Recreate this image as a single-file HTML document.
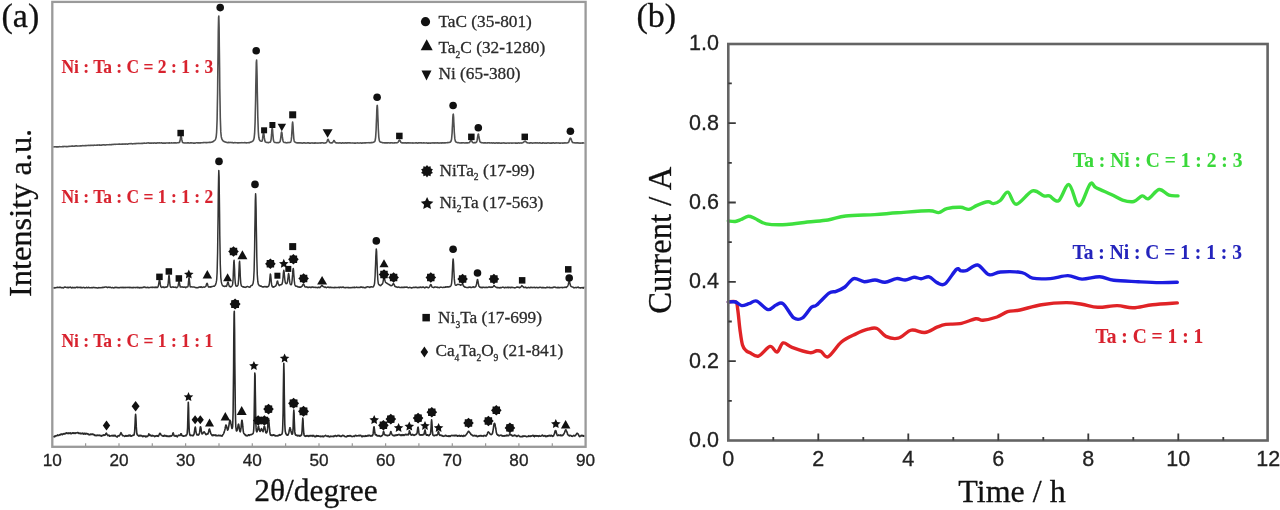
<!DOCTYPE html><html><head><meta charset="utf-8"><style>html,body{margin:0;padding:0;background:#fff;width:1280px;height:510px;overflow:hidden}svg{display:block;filter:blur(0.45px)}</style></head><body>
<svg width="1280" height="510" viewBox="0 0 1280 510">
<rect width="1280" height="510" fill="#fff"/>
<g fill="none" stroke-linejoin="round">
<path d="M53.3 146.9 L53.5 146.9 L53.8 146.9 L54 146.9 L54.3 146.9 L54.5 146.8 L54.8 146.7 L55 146.8 L55.3 146.8 L55.5 146.7 L55.8 146.9 L56 146.8 L56.3 146.9 L56.5 146.9 L56.8 146.9 L57 146.8 L57.3 146.8 L57.5 146.9 L57.8 146.8 L58 146.9 L58.3 146.9 L58.5 146.7 L58.8 146.8 L59 146.8 L59.3 146.7 L59.5 146.6 L59.8 146.7 L60 146.7 L60.3 146.7 L60.5 146.8 L60.8 146.8 L61 146.8 L61.3 146.7 L61.5 146.8 L61.8 146.7 L62 146.8 L62.3 146.8 L62.5 146.6 L62.8 146.5 L63 146.4 L63.3 146.6 L63.5 146.5 L63.8 146.6 L64 146.5 L64.3 146.5 L64.5 146.5 L64.8 146.4 L65 146.4 L65.3 146.5 L65.5 146.5 L65.8 146.6 L66 146.6 L66.3 146.6 L66.5 146.7 L66.8 146.6 L67 146.5 L67.3 146.5 L67.5 146.6 L67.8 146.6 L68 146.5 L68.3 146.5 L68.5 146.4 L68.8 146.4 L69 146.4 L69.3 146.3 L69.5 146.2 L69.8 146.3 L70 146.4 L70.3 146.2 L70.5 146.3 L70.8 146.3 L71 146.2 L71.3 146.1 L71.5 146.2 L71.8 146.3 L72 146.1 L72.3 146.2 L72.5 146 L72.8 146.1 L73 146.1 L73.3 146.2 L73.5 146.3 L73.8 146.2 L74 146.3 L74.3 146.2 L74.5 146 L74.8 146.1 L75 145.9 L75.3 145.9 L75.5 145.9 L75.8 146 L76 145.9 L76.3 145.8 L76.5 145.9 L76.8 145.9 L77 146 L77.3 146.1 L77.5 146 L77.8 146 L78 146 L78.3 146 L78.5 146 L78.8 146 L79 146 L79.3 146 L79.5 146 L79.8 145.9 L80 146 L80.3 145.8 L80.5 145.8 L80.8 145.9 L81 145.9 L81.3 145.9 L81.5 145.7 L81.8 145.7 L82 145.7 L82.3 145.6 L82.5 145.7 L82.8 145.7 L83 145.6 L83.3 145.7 L83.5 145.7 L83.8 145.7 L84 145.7 L84.3 145.7 L84.5 145.8 L84.8 145.6 L85 145.5 L85.3 145.6 L85.5 145.7 L85.8 145.6 L86 145.6 L86.3 145.6 L86.5 145.6 L86.8 145.5 L87 145.5 L87.3 145.5 L87.5 145.5 L87.8 145.5 L88 145.4 L88.3 145.5 L88.5 145.4 L88.8 145.4 L89 145.5 L89.3 145.4 L89.5 145.4 L89.8 145.5 L90 145.4 L90.3 145.3 L90.5 145.3 L90.8 145.4 L91 145.3 L91.3 145.3 L91.5 145.3 L91.8 145.4 L92 145.3 L92.3 145.4 L92.5 145.3 L92.8 145.3 L93 145.3 L93.3 145.4 L93.5 145.4 L93.8 145.3 L94 145.2 L94.3 145.2 L94.5 145.1 L94.8 145.2 L95 145.3 L95.3 145.2 L95.5 145.2 L95.8 145.2 L96 145.3 L96.3 145.3 L96.5 145.2 L96.8 145.1 L97 145.1 L97.3 145.2 L97.5 145.1 L97.8 145.1 L98 145 L98.3 145 L98.5 145 L98.8 145.1 L99 145 L99.3 144.9 L99.5 145.1 L99.8 145.1 L100 145.2 L100.3 145.1 L100.5 145.2 L100.8 145.2 L101 145.1 L101.3 145.1 L101.5 145.1 L101.8 145.1 L102 145.1 L102.3 145 L102.5 144.9 L102.8 144.8 L103 144.8 L103.3 144.8 L103.5 144.8 L103.8 144.9 L104 144.8 L104.3 144.9 L104.5 144.9 L104.8 145 L105 145 L105.3 145.1 L105.5 145 L105.8 144.8 L106 144.9 L106.3 144.8 L106.5 144.7 L106.8 144.8 L107 144.8 L107.3 144.7 L107.5 144.8 L107.8 144.8 L108 144.7 L108.3 144.7 L108.5 144.7 L108.8 144.7 L109 144.8 L109.3 144.7 L109.5 144.6 L109.8 144.6 L110 144.7 L110.3 144.6 L110.5 144.7 L110.8 144.7 L111 144.8 L111.3 144.8 L111.5 144.6 L111.8 144.6 L112 144.7 L112.3 144.5 L112.5 144.5 L112.8 144.4 L113 144.4 L113.3 144.4 L113.5 144.4 L113.8 144.5 L114 144.4 L114.3 144.3 L114.5 144.2 L114.8 144.2 L115 144.2 L115.3 144.3 L115.5 144.4 L115.8 144.3 L116 144.3 L116.3 144.3 L116.5 144.3 L116.8 144.2 L117 144.3 L117.3 144.3 L117.5 144.3 L117.8 144.2 L118 144.2 L118.3 144.1 L118.5 144.2 L118.8 144.3 L119 144.2 L119.3 144.1 L119.5 144.1 L119.8 144.1 L120 144.1 L120.3 144.2 L120.5 144.2 L120.8 144.3 L121 144.3 L121.3 144.2 L121.5 144.2 L121.8 144.1 L122 144.2 L122.3 144.1 L122.5 144.2 L122.8 144.1 L123 144.1 L123.3 144.1 L123.5 144.1 L123.8 144 L124 144 L124.3 144 L124.5 144.1 L124.8 144.2 L125 144.1 L125.3 144.1 L125.5 144.2 L125.8 144 L126 144 L126.3 143.9 L126.5 144 L126.8 144 L127 144.1 L127.3 144.1 L127.5 144.1 L127.8 144.1 L128.1 144 L128.3 143.9 L128.6 143.9 L128.8 143.8 L129.1 143.7 L129.3 143.8 L129.6 143.7 L129.8 143.6 L130.1 143.6 L130.3 143.7 L130.6 143.7 L130.8 143.6 L131.1 143.7 L131.3 143.6 L131.6 143.7 L131.8 143.8 L132.1 143.8 L132.3 143.9 L132.6 143.9 L132.8 143.9 L133.1 143.7 L133.3 143.8 L133.6 143.7 L133.8 143.7 L134.1 143.6 L134.3 143.7 L134.6 143.8 L134.8 143.6 L135.1 143.6 L135.3 143.6 L135.6 143.7 L135.8 143.6 L136.1 143.5 L136.3 143.4 L136.6 143.5 L136.8 143.6 L137.1 143.5 L137.3 143.5 L137.6 143.5 L137.8 143.4 L138.1 143.4 L138.3 143.3 L138.6 143.4 L138.8 143.5 L139.1 143.5 L139.3 143.5 L139.6 143.4 L139.8 143.4 L140.1 143.5 L140.3 143.5 L140.6 143.5 L140.8 143.4 L141.1 143.4 L141.3 143.5 L141.6 143.4 L141.8 143.2 L142.1 143.3 L142.3 143.4 L142.6 143.4 L142.8 143.3 L143.1 143.4 L143.3 143.3 L143.6 143.2 L143.8 143.1 L144.1 143.2 L144.3 143.1 L144.6 143.1 L144.8 143.2 L145.1 143.3 L145.3 143.2 L145.6 143.2 L145.8 143.2 L146.1 143.3 L146.3 143.2 L146.6 143.1 L146.8 143.1 L147.1 143 L147.3 143 L147.6 143 L147.8 142.9 L148.1 142.9 L148.3 142.9 L148.6 143 L148.8 142.9 L149.1 143.1 L149.3 143.1 L149.6 143.1 L149.8 143 L150.1 143.1 L150.3 143.1 L150.6 143.1 L150.8 143.1 L151.1 143.1 L151.3 143.2 L151.6 143.1 L151.8 143.1 L152.1 143.2 L152.3 143.1 L152.6 143 L152.8 143 L153.1 143 L153.3 143.1 L153.6 143.1 L153.8 143.2 L154.1 143.1 L154.3 143 L154.6 142.9 L154.8 142.9 L155.1 143 L155.3 143.1 L155.6 143.1 L155.8 143 L156.1 143.1 L156.3 143 L156.6 143 L156.8 143.1 L157.1 142.9 L157.3 142.9 L157.6 143 L157.8 142.9 L158.1 142.9 L158.3 143 L158.6 143 L158.8 142.9 L159.1 142.9 L159.3 142.9 L159.6 142.9 L159.8 142.9 L160.1 142.9 L160.3 143 L160.6 143 L160.8 143 L161.1 142.9 L161.3 142.9 L161.6 142.9 L161.8 142.9 L162.1 143 L162.3 143.1 L162.6 143 L162.8 143.1 L163.1 143 L163.3 143.1 L163.6 143.1 L163.8 143 L164.1 143 L164.3 143.1 L164.6 143.1 L164.8 143 L165.1 143.1 L165.3 143.2 L165.6 143.1 L165.8 143.1 L166.1 143 L166.3 143 L166.6 142.9 L166.8 143 L167.1 143 L167.3 143 L167.6 142.9 L167.8 143 L168.1 143 L168.3 142.9 L168.6 143 L168.8 143.1 L169.1 142.9 L169.3 143.1 L169.6 142.9 L169.8 142.9 L170.1 143 L170.3 143 L170.6 143 L170.8 143 L171.1 143 L171.3 142.9 L171.6 142.9 L171.8 142.8 L172.1 142.9 L172.3 143 L172.6 143 L172.8 143 L173.1 143 L173.3 142.9 L173.6 142.9 L173.8 143 L174.1 142.9 L174.3 142.9 L174.6 142.8 L174.8 142.9 L175.1 142.9 L175.3 142.9 L175.6 142.9 L175.8 142.9 L176.1 143 L176.3 142.9 L176.6 143 L176.8 142.9 L177.1 142.8 L177.3 142.7 L177.6 142.7 L177.8 142.8 L178.1 142.8 L178.3 142.7 L178.6 142.6 L178.8 142.6 L179.1 142.6 L179.3 142.5 L179.6 142.2 L179.8 141.6 L180.1 140.5 L180.3 139.1 L180.6 137.5 L180.8 136.3 L181.1 136 L181.3 136.7 L181.6 138.1 L181.8 139.7 L182.1 140.8 L182.3 141.8 L182.6 142.3 L182.8 142.7 L183.1 142.7 L183.3 142.8 L183.6 142.8 L183.8 142.9 L184.1 143 L184.3 143 L184.6 142.9 L184.8 143 L185.1 143 L185.3 143 L185.6 143 L185.8 142.9 L186.1 142.9 L186.3 143 L186.6 143 L186.8 143 L187.1 142.9 L187.3 142.9 L187.6 142.9 L187.8 142.8 L188.1 142.8 L188.3 142.9 L188.6 142.9 L188.8 142.9 L189.1 143 L189.3 143.1 L189.6 143 L189.8 143 L190.1 143 L190.3 142.9 L190.6 142.9 L190.8 142.8 L191.1 142.8 L191.3 142.8 L191.6 143 L191.8 142.9 L192.1 143 L192.3 143 L192.6 142.9 L192.8 143 L193.1 143 L193.3 143.1 L193.6 143.1 L193.8 143.1 L194.1 143 L194.3 143.1 L194.6 143.1 L194.8 143.1 L195.1 143.1 L195.3 143.1 L195.6 143 L195.8 142.9 L196.1 142.8 L196.3 142.7 L196.6 142.7 L196.8 142.7 L197.1 142.7 L197.3 142.8 L197.6 142.9 L197.8 142.9 L198.1 142.9 L198.3 142.8 L198.6 142.8 L198.8 142.9 L199.1 142.9 L199.3 142.8 L199.6 142.9 L199.8 143 L200.1 142.9 L200.3 142.8 L200.6 142.9 L200.8 142.9 L201.1 142.8 L201.3 142.7 L201.6 142.7 L201.8 142.8 L202.1 142.7 L202.3 142.7 L202.6 142.7 L202.8 142.7 L203.1 142.6 L203.3 142.6 L203.6 142.6 L203.8 142.5 L204.1 142.5 L204.3 142.5 L204.6 142.6 L204.8 142.5 L205.1 142.5 L205.3 142.5 L205.6 142.6 L205.8 142.7 L206.1 142.6 L206.3 142.6 L206.6 142.6 L206.8 142.5 L207.1 142.6 L207.3 142.6 L207.6 142.5 L207.8 142.5 L208.1 142.5 L208.3 142.5 L208.6 142.5 L208.8 142.4 L209.1 142.3 L209.3 142.4 L209.6 142.4 L209.8 142.4 L210.1 142.4 L210.3 142.5 L210.6 142.4 L210.8 142.3 L211.1 142.2 L211.3 142.2 L211.6 142.2 L211.8 142.1 L212.1 141.9 L212.3 141.9 L212.6 142 L212.8 141.9 L213.1 141.6 L213.3 141.4 L213.6 141.2 L213.8 141.1 L214.1 140.8 L214.3 140.6 L214.6 140.5 L214.8 140.3 L215.1 139.9 L215.3 139.6 L215.6 139 L215.8 138.3 L216.1 137.3 L216.3 135.6 L216.6 132.5 L216.8 127.6 L217.1 120 L217.3 108.5 L217.6 92.5 L217.8 72.6 L218.1 50.9 L218.3 30.5 L218.6 17.3 L218.8 16 L219.1 27.2 L219.3 46.6 L219.6 68.4 L219.8 88.9 L220.1 105.7 L220.3 118.1 L220.6 126.5 L220.8 131.9 L221.1 135 L221.3 136.9 L221.6 138 L221.8 138.9 L222.1 139.5 L222.3 139.9 L222.6 140.2 L222.8 140.6 L223.1 140.8 L223.3 141.1 L223.6 141.2 L223.8 141.4 L224.1 141.5 L224.3 141.6 L224.6 141.6 L224.8 141.8 L225.1 141.9 L225.3 142.1 L225.6 142 L225.8 142 L226.1 142.2 L226.3 142.3 L226.6 142.4 L226.8 142.5 L227.1 142.5 L227.3 142.6 L227.6 142.6 L227.8 142.5 L228.1 142.5 L228.3 142.4 L228.6 142.4 L228.8 142.6 L229.1 142.5 L229.3 142.6 L229.6 142.5 L229.8 142.4 L230.1 142.5 L230.3 142.5 L230.6 142.5 L230.8 142.4 L231.1 142.6 L231.3 142.6 L231.6 142.5 L231.8 142.5 L232.1 142.7 L232.3 142.6 L232.6 142.7 L232.8 142.7 L233.1 142.8 L233.3 142.8 L233.6 142.9 L233.8 142.8 L234.1 142.7 L234.3 142.7 L234.6 142.6 L234.8 142.7 L235.1 142.7 L235.3 142.6 L235.6 142.8 L235.8 142.7 L236.1 142.8 L236.3 142.7 L236.6 142.7 L236.8 142.7 L237.1 142.8 L237.3 142.8 L237.6 142.9 L237.8 142.9 L238.1 143 L238.3 142.9 L238.6 142.9 L238.8 142.8 L239.1 142.7 L239.3 142.8 L239.6 142.8 L239.8 142.9 L240.1 142.8 L240.3 142.8 L240.6 142.8 L240.8 142.8 L241.1 142.7 L241.3 142.7 L241.6 142.7 L241.8 142.6 L242.1 142.7 L242.3 142.8 L242.6 142.8 L242.8 142.8 L243.1 142.8 L243.3 142.7 L243.6 142.7 L243.8 142.8 L244.1 142.8 L244.3 142.7 L244.6 142.6 L244.8 142.6 L245.1 142.5 L245.3 142.7 L245.6 142.7 L245.8 142.8 L246.1 142.9 L246.3 142.8 L246.6 142.9 L246.8 142.8 L247.1 142.7 L247.3 142.8 L247.6 142.8 L247.8 142.8 L248.1 142.7 L248.3 142.7 L248.6 142.6 L248.8 142.7 L249.1 142.7 L249.3 142.5 L249.6 142.6 L249.8 142.4 L250.1 142.2 L250.3 142.2 L250.6 142.1 L250.8 142.1 L251.1 142.1 L251.3 141.8 L251.6 141.8 L251.8 141.7 L252.1 141.5 L252.3 141.4 L252.6 141.3 L252.8 141.1 L253.1 140.8 L253.3 140.3 L253.6 139.9 L253.8 139.2 L254.1 138.1 L254.3 136.4 L254.6 133.7 L254.8 129.2 L255.1 122.3 L255.3 112.7 L255.6 100.3 L255.8 86.1 L256.1 72.4 L256.3 62.6 L256.6 60 L256.8 65.8 L257.1 77.6 L257.3 91.7 L257.6 105.4 L257.8 116.7 L258.1 125.3 L258.3 131.3 L258.6 135.1 L258.8 137.3 L259.1 138.6 L259.3 139.6 L259.6 140 L259.8 140.3 L260.1 140.7 L260.3 140.9 L260.6 141 L260.8 141.1 L261.1 141.2 L261.3 141.3 L261.6 141.3 L261.8 141.3 L262.1 141 L262.3 140.2 L262.6 138.7 L262.8 136.8 L263.1 134.5 L263.3 132.8 L263.6 132.3 L263.8 133.4 L264.1 135.6 L264.3 137.7 L264.6 139.5 L264.8 140.6 L265.1 141.5 L265.3 141.9 L265.6 142 L265.8 142.1 L266.1 142.2 L266.3 142.3 L266.6 142.4 L266.8 142.5 L267.1 142.6 L267.3 142.5 L267.6 142.4 L267.8 142.5 L268.1 142.6 L268.3 142.6 L268.6 142.6 L268.8 142.6 L269.1 142.5 L269.3 142.3 L269.6 142.2 L269.8 142.2 L270.1 142.2 L270.3 142.1 L270.6 141.6 L270.8 140.8 L271.1 139.5 L271.3 137.2 L271.6 134.2 L271.8 130.8 L272.1 128.3 L272.3 128 L272.6 130 L272.8 133.3 L273.1 136.6 L273.3 139 L273.6 140.6 L273.8 141.4 L274.1 141.9 L274.3 142.2 L274.6 142.4 L274.8 142.5 L275.1 142.5 L275.3 142.5 L275.6 142.5 L275.8 142.6 L276.1 142.7 L276.3 142.7 L276.6 142.8 L276.8 142.8 L277.1 142.6 L277.3 142.7 L277.6 142.7 L277.8 142.7 L278.1 142.6 L278.3 142.6 L278.6 142.7 L278.8 142.5 L279.1 142.5 L279.3 142.4 L279.6 142.2 L279.8 142 L280.1 141.6 L280.3 140.6 L280.6 139.1 L280.8 137.3 L281.1 135 L281.3 132.9 L281.6 132 L281.8 132.4 L282.1 134 L282.3 136.4 L282.6 138.5 L282.8 140.1 L283.1 141.1 L283.3 141.7 L283.6 142 L283.8 142.2 L284.1 142.5 L284.3 142.5 L284.6 142.5 L284.8 142.5 L285.1 142.4 L285.3 142.5 L285.6 142.7 L285.8 142.8 L286.1 142.8 L286.3 142.9 L286.6 142.7 L286.8 142.7 L287.1 142.8 L287.3 142.7 L287.6 142.6 L287.8 142.6 L288.1 142.6 L288.3 142.6 L288.6 142.5 L288.8 142.5 L289.1 142.6 L289.3 142.5 L289.6 142.5 L289.8 142.4 L290.1 142.4 L290.3 142.3 L290.6 142.1 L290.8 141.6 L291.1 140.7 L291.3 139.4 L291.6 136.9 L291.8 133.2 L292.1 128.7 L292.3 124.5 L292.6 122 L292.8 123.2 L293.1 127 L293.3 131.6 L293.6 135.6 L293.8 138.5 L294.1 140.4 L294.3 141.4 L294.6 141.8 L294.8 142 L295.1 142.1 L295.3 142.3 L295.6 142.5 L295.8 142.5 L296.1 142.5 L296.3 142.7 L296.6 142.8 L296.8 142.9 L297.1 142.8 L297.3 142.8 L297.6 142.9 L297.8 142.9 L298.1 142.9 L298.3 142.9 L298.6 142.8 L298.8 142.8 L299.1 142.9 L299.3 142.9 L299.6 142.9 L299.8 142.9 L300.1 142.9 L300.3 142.9 L300.6 142.9 L300.8 143 L301.1 142.9 L301.3 142.9 L301.6 143 L301.8 143.1 L302.1 143 L302.3 143.1 L302.6 143.1 L302.8 143 L303.1 142.9 L303.3 142.9 L303.6 142.8 L303.8 142.9 L304.1 142.9 L304.3 143 L304.6 142.9 L304.8 142.8 L305.1 142.9 L305.3 143 L305.6 143.1 L305.8 143.1 L306.1 143.1 L306.3 143.1 L306.6 143 L306.8 143 L307.1 143 L307.3 142.9 L307.6 142.9 L307.8 142.9 L308.1 142.9 L308.3 142.9 L308.6 142.9 L308.8 142.9 L309.1 142.9 L309.3 143.1 L309.6 143.1 L309.8 143.2 L310.1 143.2 L310.3 143.1 L310.6 143.2 L310.8 143 L311.1 142.9 L311.3 142.9 L311.6 143 L311.8 143 L312.1 143 L312.3 142.9 L312.6 143.1 L312.8 143 L313.1 143 L313.3 143 L313.6 143.1 L313.8 143.2 L314.1 143.1 L314.3 143.1 L314.6 143.1 L314.8 142.9 L315.1 142.9 L315.3 143 L315.6 143.1 L315.8 142.9 L316.1 143 L316.3 143 L316.6 143.1 L316.8 143 L317.1 143 L317.3 143 L317.6 143.1 L317.8 143 L318.1 143.1 L318.3 143.1 L318.6 143 L318.8 143 L319.1 143 L319.3 143 L319.6 142.9 L319.8 143 L320.1 143.1 L320.3 143.1 L320.6 142.9 L320.8 142.9 L321.1 142.9 L321.3 142.9 L321.6 142.9 L321.8 142.8 L322.1 142.8 L322.3 142.8 L322.6 142.7 L322.8 142.8 L323.1 142.9 L323.3 142.9 L323.6 143 L323.8 143.1 L324.1 143.1 L324.3 143.1 L324.6 143 L324.8 143 L325.1 142.9 L325.3 143 L325.6 142.9 L325.8 142.8 L326.1 142.8 L326.3 142.5 L326.6 142.2 L326.8 141.9 L327.1 141.4 L327.3 140.7 L327.6 139.9 L327.8 139.5 L328.1 139.3 L328.3 139.7 L328.6 140.2 L328.8 140.8 L329.1 141.4 L329.3 142 L329.6 142.3 L329.8 142.6 L330.1 142.7 L330.3 142.8 L330.6 142.7 L330.8 142.9 L331.1 142.9 L331.3 142.8 L331.6 142.8 L331.8 142.9 L332.1 142.9 L332.3 142.7 L332.6 142.5 L332.8 142.3 L333.1 142 L333.3 141.6 L333.6 141.2 L333.8 140.6 L334.1 140.5 L334.3 140.8 L334.6 141.4 L334.8 141.8 L335.1 142.2 L335.3 142.4 L335.6 142.7 L335.8 142.7 L336.1 142.9 L336.3 142.9 L336.6 142.9 L336.8 142.8 L337.1 142.8 L337.3 142.8 L337.6 143 L337.8 143 L338.1 142.9 L338.3 143 L338.6 143.1 L338.8 143 L339.1 142.9 L339.3 142.9 L339.6 143 L339.8 142.9 L340.1 142.9 L340.3 143 L340.6 142.9 L340.8 143 L341.1 143.1 L341.3 143.2 L341.6 143.2 L341.8 143 L342.1 142.9 L342.3 142.9 L342.6 142.9 L342.8 142.8 L343.1 143 L343.3 142.9 L343.6 143 L343.8 143.1 L344.1 143 L344.3 143.1 L344.6 143 L344.8 142.9 L345.1 142.9 L345.3 142.8 L345.6 142.9 L345.8 142.9 L346.1 143 L346.3 143.1 L346.6 142.9 L346.8 142.9 L347.1 142.9 L347.3 142.9 L347.6 142.8 L347.8 142.8 L348.1 142.9 L348.3 142.9 L348.6 142.8 L348.8 142.8 L349.1 142.8 L349.3 142.9 L349.6 142.9 L349.8 142.9 L350.1 142.9 L350.3 143 L350.6 143 L350.8 142.9 L351.1 143 L351.3 143 L351.6 143 L351.8 143 L352.1 143 L352.3 143 L352.6 142.9 L352.8 143 L353.1 143.1 L353.3 143 L353.6 143 L353.8 143 L354.1 143.1 L354.3 143.1 L354.6 143 L354.8 143.1 L355.1 143.1 L355.3 143.1 L355.6 143.2 L355.8 143.1 L356.1 143 L356.3 143 L356.6 143 L356.8 143 L357.1 143 L357.3 142.9 L357.6 142.9 L357.8 143 L358.1 143 L358.3 143 L358.6 143.1 L358.8 143 L359.1 143 L359.3 143 L359.6 143.1 L359.8 143 L360.1 142.9 L360.3 143 L360.6 143 L360.8 142.9 L361.1 143 L361.3 143.1 L361.6 143.1 L361.8 143.1 L362.1 143.2 L362.3 143.2 L362.6 143 L362.8 142.9 L363.1 143 L363.3 143 L363.6 142.9 L363.8 142.9 L364.1 143 L364.3 142.9 L364.6 142.9 L364.8 143 L365.1 142.9 L365.3 142.8 L365.6 142.9 L365.8 142.8 L366.1 142.9 L366.3 142.8 L366.6 142.8 L366.8 142.8 L367.1 142.8 L367.3 142.8 L367.6 142.7 L367.8 142.7 L368.1 142.7 L368.3 142.7 L368.6 142.7 L368.8 142.7 L369.1 142.6 L369.3 142.7 L369.6 142.8 L369.8 142.9 L370.1 142.9 L370.3 142.8 L370.6 142.7 L370.8 142.6 L371.1 142.6 L371.3 142.7 L371.6 142.6 L371.8 142.7 L372.1 142.6 L372.3 142.6 L372.6 142.5 L372.8 142.5 L373.1 142.4 L373.3 142.3 L373.6 142.2 L373.8 142.1 L374.1 141.9 L374.3 141.8 L374.6 141.7 L374.8 141.3 L375.1 140.7 L375.3 139.5 L375.6 137.6 L375.8 134.6 L376.1 130 L376.3 124 L376.6 117.2 L376.8 110.4 L377.1 105.9 L377.3 105.4 L377.6 109.2 L377.8 115.6 L378.1 122.6 L378.3 128.8 L378.6 133.8 L378.8 137.1 L379.1 139.2 L379.3 140.5 L379.6 141.1 L379.8 141.6 L380.1 141.8 L380.3 142 L380.6 142.1 L380.8 142.2 L381.1 142.2 L381.3 142.2 L381.6 142.4 L381.8 142.4 L382.1 142.5 L382.3 142.6 L382.6 142.7 L382.8 142.8 L383.1 142.9 L383.3 142.8 L383.6 142.7 L383.8 142.7 L384.1 142.8 L384.3 142.9 L384.6 142.8 L384.8 142.7 L385.1 142.9 L385.3 142.9 L385.6 142.9 L385.8 143 L386.1 142.8 L386.3 142.9 L386.6 142.9 L386.8 142.9 L387.1 142.8 L387.3 142.8 L387.6 142.8 L387.8 143 L388.1 142.9 L388.3 142.8 L388.6 142.7 L388.8 142.8 L389.1 142.8 L389.3 142.9 L389.6 143 L389.8 143 L390.1 142.9 L390.3 143 L390.6 142.8 L390.8 142.8 L391.1 142.9 L391.3 142.8 L391.6 142.8 L391.8 142.8 L392.1 142.8 L392.3 143 L392.6 142.9 L392.8 143 L393.1 142.9 L393.3 143 L393.6 143 L393.8 143 L394.1 142.9 L394.3 142.9 L394.6 142.9 L394.8 143 L395.1 142.9 L395.3 142.8 L395.6 142.8 L395.8 142.8 L396.1 142.8 L396.3 142.8 L396.6 142.8 L396.8 142.9 L397.1 142.8 L397.3 142.6 L397.6 142.5 L397.8 142.4 L398.1 142.2 L398.3 141.9 L398.6 141.4 L398.8 141 L399.1 140.5 L399.3 140.1 L399.6 140.1 L399.8 140.3 L400.1 140.7 L400.3 141.2 L400.6 141.6 L400.8 142.2 L401.1 142.5 L401.3 142.5 L401.6 142.8 L401.8 142.9 L402.1 142.9 L402.3 142.9 L402.6 142.8 L402.8 143 L403.1 142.9 L403.3 142.9 L403.6 143 L403.8 142.9 L404.1 142.9 L404.3 142.9 L404.6 142.9 L404.8 143 L405.1 143 L405.3 142.9 L405.6 142.9 L405.8 142.8 L406.1 142.9 L406.3 143 L406.6 143.1 L406.8 142.9 L407.1 143 L407.3 142.9 L407.6 142.9 L407.8 142.9 L408.1 142.9 L408.3 142.8 L408.6 142.9 L408.8 142.8 L409.1 143 L409.3 142.9 L409.6 143 L409.8 142.9 L410.1 142.8 L410.3 142.9 L410.6 143 L410.8 143 L411.1 143 L411.3 143 L411.6 142.9 L411.8 143 L412.1 143 L412.3 143.1 L412.6 142.9 L412.8 142.9 L413.1 142.9 L413.3 143 L413.6 143 L413.8 143.1 L414.1 143 L414.3 143 L414.6 143 L414.8 143 L415.1 142.9 L415.3 142.9 L415.6 143 L415.8 142.9 L416.1 142.9 L416.3 142.9 L416.6 142.9 L416.8 142.9 L417.1 143 L417.3 143.1 L417.6 143.1 L417.8 143 L418.1 142.9 L418.3 142.8 L418.6 142.8 L418.8 142.9 L419.1 142.9 L419.3 142.9 L419.6 142.8 L419.8 142.8 L420.1 142.8 L420.3 142.8 L420.6 142.8 L420.8 143 L421.1 143 L421.3 142.9 L421.6 142.9 L421.8 142.8 L422.1 142.9 L422.3 143 L422.6 143 L422.8 143 L423.1 143 L423.3 142.9 L423.6 142.9 L423.8 142.8 L424.1 142.9 L424.3 143 L424.6 143 L424.8 142.9 L425.1 143 L425.3 143 L425.6 143 L425.8 143 L426.1 143 L426.3 142.9 L426.6 142.9 L426.8 143 L427.1 143 L427.3 143.1 L427.6 143 L427.8 143.1 L428.1 143.1 L428.3 143.1 L428.6 143.2 L428.8 143 L429.1 143.1 L429.3 143.2 L429.6 143 L429.8 143 L430.1 143.1 L430.3 143 L430.6 143.1 L430.8 143.2 L431.1 143.1 L431.3 143 L431.6 142.9 L431.8 143 L432.1 143 L432.3 142.9 L432.6 142.9 L432.8 143 L433.1 143 L433.3 142.9 L433.6 143 L433.8 142.9 L434.1 142.9 L434.3 143.1 L434.6 143 L434.8 142.9 L435.1 143 L435.3 142.9 L435.6 142.9 L435.8 143 L436.1 142.9 L436.3 143 L436.6 143 L436.8 142.9 L437.1 142.9 L437.3 142.9 L437.6 142.9 L437.8 142.9 L438.1 142.9 L438.3 142.9 L438.6 143 L438.8 143.1 L439.1 143.1 L439.3 143.1 L439.6 143 L439.8 142.9 L440.1 142.8 L440.3 142.8 L440.6 143 L440.8 143 L441.1 143.1 L441.3 143.1 L441.6 142.9 L441.8 142.9 L442.1 142.8 L442.3 142.9 L442.6 142.9 L442.8 142.8 L443.1 143 L443.3 142.9 L443.6 143 L443.8 142.9 L444.1 142.9 L444.3 142.8 L444.6 142.9 L444.8 142.9 L445.1 142.8 L445.3 142.9 L445.6 142.9 L445.8 142.8 L446.1 142.7 L446.3 142.8 L446.6 142.7 L446.8 142.8 L447.1 142.7 L447.3 142.6 L447.6 142.6 L447.8 142.5 L448.1 142.5 L448.3 142.6 L448.6 142.5 L448.8 142.5 L449.1 142.4 L449.3 142.4 L449.6 142.4 L449.8 142.3 L450.1 142.3 L450.3 142.1 L450.6 141.8 L450.8 141.5 L451.1 141.1 L451.3 140.3 L451.6 138.8 L451.8 136.5 L452.1 133.1 L452.3 128.5 L452.6 123.2 L452.8 118 L453.1 114.5 L453.3 114.2 L453.6 117.1 L453.8 122.1 L454.1 127.4 L454.3 132.2 L454.6 135.9 L454.8 138.4 L455.1 140.1 L455.3 140.9 L455.6 141.6 L455.8 141.8 L456.1 142.1 L456.3 142.2 L456.6 142.2 L456.8 142.3 L457.1 142.5 L457.3 142.6 L457.6 142.7 L457.8 142.8 L458.1 142.7 L458.3 142.7 L458.6 142.6 L458.8 142.7 L459.1 142.7 L459.3 142.8 L459.6 142.9 L459.8 143 L460.1 143 L460.3 143 L460.6 143 L460.8 142.9 L461.1 143 L461.3 142.8 L461.6 142.7 L461.8 142.9 L462.1 142.8 L462.3 142.9 L462.6 142.8 L462.8 142.7 L463.1 142.8 L463.3 142.7 L463.6 142.8 L463.8 142.9 L464.1 142.9 L464.3 142.9 L464.6 143 L464.8 143 L465.1 143 L465.3 143 L465.6 142.9 L465.8 142.8 L466.1 142.8 L466.3 143 L466.6 142.9 L466.8 142.9 L467.1 142.8 L467.3 142.9 L467.6 142.9 L467.8 142.9 L468.1 142.9 L468.3 142.8 L468.6 142.8 L468.8 142.8 L469.1 142.8 L469.3 142.6 L469.6 142.3 L469.8 141.9 L470.1 141.6 L470.3 141 L470.6 140.4 L470.8 140 L471.1 140 L471.3 140.2 L471.6 140.6 L471.8 141.2 L472.1 141.8 L472.3 142.1 L472.6 142.3 L472.8 142.6 L473.1 142.7 L473.3 142.8 L473.6 142.8 L473.8 142.9 L474.1 142.8 L474.3 142.7 L474.6 142.6 L474.8 142.6 L475.1 142.7 L475.3 142.6 L475.6 142.7 L475.8 142.6 L476.1 142.5 L476.3 142.3 L476.6 141.9 L476.8 141.4 L477.1 140.4 L477.3 139.1 L477.6 137.5 L477.8 135.9 L478.1 134.5 L478.3 134 L478.6 134.5 L478.8 135.9 L479.1 137.5 L479.3 139 L479.6 140.3 L479.8 141.3 L480.1 141.8 L480.3 142.2 L480.6 142.3 L480.8 142.5 L481.1 142.6 L481.3 142.6 L481.6 142.6 L481.8 142.6 L482.1 142.8 L482.3 142.8 L482.6 142.8 L482.8 142.8 L483.1 142.9 L483.3 143 L483.6 143 L483.8 142.8 L484.1 142.9 L484.3 142.9 L484.6 142.8 L484.8 142.9 L485.1 142.9 L485.3 142.8 L485.6 142.9 L485.8 142.9 L486.1 142.9 L486.3 143 L486.6 143 L486.8 143 L487.1 142.9 L487.3 142.9 L487.6 142.9 L487.8 142.9 L488.1 142.9 L488.3 142.8 L488.6 142.7 L488.8 142.7 L489.1 142.7 L489.3 142.9 L489.6 142.9 L489.8 142.9 L490.1 143 L490.3 143 L490.6 142.9 L490.8 143 L491.1 142.9 L491.3 143 L491.6 142.9 L491.8 142.9 L492.1 142.9 L492.3 143 L492.6 143.1 L492.8 143.1 L493.1 142.9 L493.3 142.9 L493.6 143 L493.8 142.9 L494.1 143 L494.3 143.1 L494.6 143.2 L494.8 143.2 L495.1 143.1 L495.3 143.2 L495.6 143.1 L495.8 143 L496.1 142.9 L496.3 142.9 L496.6 143 L496.8 142.9 L497.1 143 L497.3 142.9 L497.6 143.1 L497.8 143.1 L498.1 143.1 L498.3 143.2 L498.6 143 L498.8 142.9 L499.1 142.9 L499.3 142.9 L499.6 143 L499.8 143.1 L500.1 143.1 L500.3 143.2 L500.6 143.2 L500.8 143.1 L501.1 143.1 L501.3 143.1 L501.6 143.1 L501.8 143.1 L502.1 143 L502.3 143 L502.6 143 L502.8 143.1 L503.1 142.9 L503.3 143 L503.6 143 L503.8 142.9 L504.1 142.9 L504.3 143 L504.6 143.1 L504.8 143.1 L505.1 143.1 L505.3 143.2 L505.6 143.2 L505.8 143.1 L506.1 143.1 L506.3 143.2 L506.6 143.2 L506.8 143.2 L507.1 143.1 L507.3 143 L507.6 143 L507.8 143 L508.1 143 L508.3 143 L508.6 143.1 L508.8 143 L509.1 143 L509.3 143.1 L509.6 143.1 L509.8 143 L510.1 143 L510.3 143 L510.6 143 L510.8 143 L511.1 143 L511.3 143.1 L511.6 143.2 L511.8 143.2 L512 143.1 L512.3 143 L512.5 143 L512.8 143.1 L513 143.1 L513.3 143 L513.5 143 L513.8 143 L514 143 L514.3 143 L514.5 143 L514.8 143 L515 143.1 L515.3 143.2 L515.5 143 L515.8 143 L516 143.1 L516.3 143.1 L516.5 143.1 L516.8 143.1 L517 143 L517.3 143.1 L517.5 143.1 L517.8 143.1 L518 143 L518.3 143 L518.5 142.9 L518.8 142.9 L519 142.9 L519.3 143 L519.5 143.1 L519.8 143 L520 143.1 L520.3 143 L520.5 143 L520.8 142.9 L521 143 L521.3 143 L521.5 143.1 L521.8 142.9 L522 143 L522.3 142.8 L522.5 142.8 L522.8 142.7 L523 142.5 L523.3 142.4 L523.5 142.3 L523.8 142.1 L524 141.8 L524.3 141.6 L524.5 141.2 L524.8 141.2 L525 141 L525.3 141 L525.5 141.4 L525.8 141.6 L526 141.8 L526.3 142.2 L526.5 142.3 L526.8 142.5 L527 142.8 L527.3 142.8 L527.5 142.8 L527.8 142.9 L528 143 L528.3 143 L528.5 143 L528.8 143 L529 142.9 L529.3 143.1 L529.5 143.2 L529.8 143 L530 142.9 L530.3 142.9 L530.5 143 L530.8 142.9 L531 142.8 L531.3 142.9 L531.5 142.9 L531.8 143 L532 143 L532.3 143.1 L532.5 143.1 L532.8 143 L533 143.1 L533.3 143 L533.5 143 L533.8 142.9 L534 142.9 L534.3 143 L534.5 142.9 L534.8 143 L535 142.9 L535.3 142.9 L535.5 142.9 L535.8 142.9 L536 143 L536.3 143 L536.5 142.9 L536.8 142.9 L537 142.9 L537.3 142.9 L537.5 143 L537.8 142.9 L538 143 L538.3 143 L538.5 143.1 L538.8 143 L539 142.9 L539.3 142.9 L539.5 142.9 L539.8 142.8 L540 142.8 L540.3 142.9 L540.5 143 L540.8 143.1 L541 143.2 L541.3 143.1 L541.5 143.2 L541.8 143.2 L542 143.1 L542.3 143.1 L542.5 142.9 L542.8 142.9 L543 142.8 L543.3 142.9 L543.5 142.8 L543.8 143 L544 143 L544.3 143.1 L544.5 143.1 L544.8 143 L545 143.1 L545.3 143.2 L545.5 143.1 L545.8 143 L546 143 L546.3 143.1 L546.5 143.2 L546.8 143.1 L547 143.1 L547.3 143 L547.5 142.9 L547.8 142.9 L548 143 L548.3 142.9 L548.5 143 L548.8 142.9 L549 143 L549.3 143 L549.5 143.1 L549.8 143.1 L550 143.2 L550.3 143.1 L550.5 143.1 L550.8 143 L551 143.1 L551.3 143 L551.5 143.1 L551.8 143.1 L552 142.9 L552.3 143.1 L552.5 143 L552.8 142.9 L553 142.9 L553.3 142.8 L553.5 142.8 L553.8 142.9 L554 143 L554.3 143.1 L554.5 143.1 L554.8 143.2 L555 143.2 L555.3 143.1 L555.5 143 L555.8 142.9 L556 142.9 L556.3 142.9 L556.5 143 L556.8 142.9 L557 143 L557.3 143 L557.5 143 L557.8 142.9 L558 142.9 L558.3 143 L558.5 142.9 L558.8 143 L559 143.1 L559.3 143 L559.5 143.1 L559.8 143.1 L560 143.2 L560.3 143.1 L560.5 143.1 L560.8 143.1 L561 143 L561.3 143 L561.5 143 L561.8 143 L562 143 L562.3 143.1 L562.5 143.1 L562.8 143.2 L563 143 L563.3 143 L563.5 143 L563.8 143.1 L564 142.9 L564.3 142.9 L564.5 143 L564.8 142.9 L565 143 L565.3 143 L565.5 142.9 L565.8 142.9 L566 142.9 L566.3 143 L566.5 143 L566.8 143 L567 142.9 L567.3 142.9 L567.5 142.8 L567.8 142.8 L568 142.7 L568.3 142.4 L568.5 142.3 L568.8 141.9 L569 141.3 L569.3 140.7 L569.5 139.9 L569.8 139.1 L570 138.6 L570.3 138.2 L570.5 138.1 L570.8 138.3 L571 138.7 L571.3 139.5 L571.5 140.2 L571.8 141 L572 141.5 L572.3 142 L572.5 142.3 L572.8 142.5 L573 142.7 L573.3 142.6 L573.5 142.7 L573.8 142.7 L574 142.7 L574.3 142.7 L574.5 142.8 L574.8 142.9 L575 142.8 L575.3 143 L575.5 143 L575.8 142.9 L576 142.8 L576.3 143 L576.5 142.9 L576.8 142.8 L577 142.8 L577.3 142.9 L577.5 142.8 L577.8 142.8 L578 142.9 L578.3 142.9 L578.5 143 L578.8 143.1 L579 143.1 L579.3 143.1 L579.5 143.1 L579.8 143 L580 143 L580.3 143.1 L580.5 143.1 L580.8 143 L581 143.1 L581.3 143 L581.5 143 L581.8 143.1 L582 143 L582.3 142.9 L582.5 143.1 L582.8 142.9 L583 143 L583.3 143 L583.5 142.9 L583.8 143 L584 142.9 L584.3 143 L584.5 142.9" stroke="#505050" stroke-width="1.6"/>
<path d="M53.3 287.6 L53.5 287.7 L53.8 287.8 L54 287.9 L54.3 287.9 L54.5 288 L54.8 287.6 L55 287.6 L55.3 287.8 L55.5 287.8 L55.8 287.9 L56 287.6 L56.3 287.5 L56.5 287.4 L56.8 287.4 L57 287.5 L57.3 287.2 L57.5 287.2 L57.8 287.1 L58 287.5 L58.3 287.6 L58.5 287.4 L58.8 287.6 L59 287.4 L59.3 287.5 L59.5 287.3 L59.8 287.1 L60 287.4 L60.3 287.3 L60.5 287.2 L60.8 287.5 L61 287.7 L61.3 287.5 L61.5 287.8 L61.8 287.7 L62 287.7 L62.3 287.5 L62.5 287.7 L62.8 287.8 L63 287.9 L63.3 288 L63.5 287.8 L63.8 287.6 L64 287.4 L64.3 287.2 L64.5 287.1 L64.8 287.1 L65 287.3 L65.3 287.1 L65.5 287.3 L65.8 287.3 L66 287.2 L66.3 287.5 L66.5 287.5 L66.8 287.4 L67 287.4 L67.3 287.5 L67.5 287.3 L67.8 287.6 L68 287.3 L68.3 287.5 L68.5 287.7 L68.8 287.4 L69 287.6 L69.3 287.5 L69.5 287.5 L69.8 287.3 L70 287.1 L70.3 287 L70.5 287.4 L70.8 287.3 L71 287.5 L71.3 287.7 L71.5 287.9 L71.8 287.7 L72 287.6 L72.3 287.6 L72.5 287.7 L72.8 287.4 L73 287.6 L73.3 287.7 L73.5 287.8 L73.8 287.5 L74 287.7 L74.3 287.4 L74.5 287.4 L74.8 287.5 L75 287.7 L75.3 287.6 L75.5 287.8 L75.8 287.7 L76 287.5 L76.3 287.4 L76.5 287.3 L76.8 287.1 L77 287 L77.3 287.3 L77.5 287.6 L77.8 287.4 L78 287.2 L78.3 287.5 L78.5 287.5 L78.8 287.5 L79 287.3 L79.3 287.4 L79.5 287.6 L79.8 287.6 L80 287.5 L80.3 287.3 L80.5 287.6 L80.8 287.3 L81 287.3 L81.3 287.6 L81.5 287.4 L81.8 287.5 L82 287.8 L82.3 287.8 L82.5 287.8 L82.8 287.5 L83 287.5 L83.3 287.3 L83.5 287.5 L83.8 287.4 L84 287.4 L84.3 287.7 L84.5 287.8 L84.8 288 L85 287.8 L85.3 287.7 L85.5 287.8 L85.8 287.7 L86 287.5 L86.3 287.5 L86.5 287.3 L86.8 287.3 L87 287.6 L87.3 287.8 L87.5 287.8 L87.8 287.7 L88 287.6 L88.3 287.3 L88.5 287.2 L88.8 287.5 L89 287.7 L89.3 287.6 L89.5 287.7 L89.8 287.8 L90 287.8 L90.3 287.8 L90.5 287.8 L90.8 287.7 L91 287.7 L91.3 287.5 L91.5 287.5 L91.8 287.7 L92 287.7 L92.3 287.5 L92.5 287.8 L92.8 287.8 L93 287.7 L93.3 287.4 L93.5 287.5 L93.8 287.3 L94 287.5 L94.3 287.5 L94.5 287.6 L94.8 287.7 L95 287.8 L95.3 287.6 L95.5 287.7 L95.8 287.7 L96 287.8 L96.3 287.7 L96.5 287.8 L96.8 287.9 L97 287.9 L97.3 288 L97.5 288.1 L97.8 287.9 L98 287.8 L98.3 287.5 L98.5 287.7 L98.8 287.9 L99 287.8 L99.3 287.8 L99.5 287.8 L99.8 287.8 L100 287.6 L100.3 287.7 L100.5 287.7 L100.8 287.7 L101 287.6 L101.3 287.6 L101.5 287.7 L101.8 287.7 L102 287.8 L102.3 287.4 L102.5 287.3 L102.8 287.3 L103 287.5 L103.3 287.3 L103.5 287.5 L103.8 287.5 L104 287.3 L104.3 287.3 L104.5 287.2 L104.8 287.1 L105 287 L105.3 287.1 L105.5 287 L105.8 287 L106 286.9 L106.3 287.1 L106.5 287.1 L106.8 287.3 L107 287.4 L107.3 287.3 L107.5 287.6 L107.8 287.3 L108 287.3 L108.3 287.2 L108.5 287.3 L108.8 287.1 L109 287.4 L109.3 287.4 L109.5 287.2 L109.8 287.3 L110 287.2 L110.3 287.3 L110.5 287.3 L110.8 287.4 L111 287.7 L111.3 287.8 L111.5 287.7 L111.8 287.8 L112 287.8 L112.3 287.6 L112.5 287.4 L112.8 287.5 L113 287.5 L113.3 287.8 L113.5 287.9 L113.8 287.9 L114 287.7 L114.3 287.8 L114.5 287.5 L114.8 287.3 L115 287.4 L115.3 287.5 L115.5 287.3 L115.8 287.4 L116 287.7 L116.3 287.5 L116.5 287.5 L116.8 287.3 L117 287.3 L117.3 287.6 L117.5 287.5 L117.8 287.8 L118 287.9 L118.3 287.8 L118.5 287.6 L118.8 287.8 L119 287.7 L119.3 287.6 L119.5 287.5 L119.8 287.7 L120 287.7 L120.3 287.5 L120.5 287.5 L120.8 287.3 L121 287.4 L121.3 287.4 L121.5 287.3 L121.8 287.5 L122 287.7 L122.3 287.4 L122.5 287.4 L122.8 287.3 L123 287.6 L123.3 287.7 L123.5 287.5 L123.8 287.4 L124 287.2 L124.3 287.6 L124.5 287.4 L124.8 287.5 L125 287.5 L125.3 287.6 L125.5 287.6 L125.8 287.7 L126 287.4 L126.3 287.6 L126.5 287.5 L126.8 287.5 L127 287.4 L127.3 287.3 L127.5 287.4 L127.8 287.4 L128.1 287.4 L128.3 287.5 L128.6 287.6 L128.8 287.3 L129.1 287.2 L129.3 287.3 L129.6 287.6 L129.8 287.8 L130.1 287.7 L130.3 287.4 L130.6 287.6 L130.8 287.5 L131.1 287.5 L131.3 287.6 L131.6 287.7 L131.8 287.6 L132.1 287.8 L132.3 287.6 L132.6 287.5 L132.8 287.7 L133.1 287.5 L133.3 287.4 L133.6 287.6 L133.8 287.3 L134.1 287.6 L134.3 287.6 L134.6 287.6 L134.8 287.4 L135.1 287.6 L135.3 287.8 L135.6 287.5 L135.8 287.5 L136.1 287.5 L136.3 287.5 L136.6 287.4 L136.8 287.3 L137.1 287.4 L137.3 287.6 L137.6 287.3 L137.8 287.2 L138.1 287.5 L138.3 287.6 L138.6 287.7 L138.8 287.4 L139.1 287.5 L139.3 287.8 L139.6 288 L139.8 287.9 L140.1 287.6 L140.3 287.7 L140.6 287.5 L140.8 287.6 L141.1 287.8 L141.3 287.8 L141.6 287.5 L141.8 287.4 L142.1 287.7 L142.3 287.4 L142.6 287.5 L142.8 287.4 L143.1 287.3 L143.3 287.4 L143.6 287.2 L143.8 287.1 L144.1 287.1 L144.3 287 L144.6 286.9 L144.8 287.1 L145.1 287.4 L145.3 287.6 L145.6 287.4 L145.8 287.4 L146.1 287.3 L146.3 287.4 L146.6 287.4 L146.8 287.7 L147.1 287.6 L147.3 287.3 L147.6 287.5 L147.8 287.3 L148.1 287.4 L148.3 287.4 L148.6 287.7 L148.8 287.6 L149.1 287.7 L149.3 287.5 L149.6 287.5 L149.8 287.4 L150.1 287.5 L150.3 287.5 L150.6 287.3 L150.8 287.2 L151.1 287.2 L151.3 287.4 L151.6 287.3 L151.8 287.4 L152.1 287.5 L152.3 287.3 L152.6 287.4 L152.8 287.2 L153.1 287.1 L153.3 287.2 L153.6 287.2 L153.8 287.4 L154.1 287.4 L154.3 287.3 L154.6 287.5 L154.8 287.2 L155.1 287.4 L155.3 287.2 L155.6 287 L155.8 287.4 L156.1 287.5 L156.3 287.3 L156.6 287.1 L156.8 287.4 L157.1 287.4 L157.3 287.5 L157.6 287.1 L157.8 287.1 L158.1 286.6 L158.3 285.9 L158.6 284.8 L158.8 283.4 L159.1 281.4 L159.3 279.8 L159.6 279.2 L159.8 280.5 L160.1 282.4 L160.3 284.4 L160.6 285.6 L160.8 286.6 L161.1 287 L161.3 287.2 L161.6 287.3 L161.8 287.5 L162.1 287.4 L162.3 287.2 L162.6 287 L162.8 286.9 L163.1 286.8 L163.3 287.2 L163.6 287.2 L163.8 287.4 L164.1 287.1 L164.3 287.2 L164.6 287.4 L164.8 287.5 L165.1 287.4 L165.3 287.3 L165.6 287.1 L165.8 287 L166.1 286.8 L166.3 286.9 L166.6 286.9 L166.8 287.1 L167.1 286.8 L167.3 286.6 L167.6 286.3 L167.8 285.5 L168.1 284.2 L168.3 281.8 L168.6 278.9 L168.8 275.9 L169.1 275.4 L169.3 277.2 L169.6 280.6 L169.8 283.5 L170.1 285.4 L170.3 286.4 L170.6 287.1 L170.8 287 L171.1 287.2 L171.3 287.1 L171.6 287.3 L171.8 287.4 L172.1 287.2 L172.3 287.1 L172.6 286.9 L172.8 286.9 L173.1 286.8 L173.3 286.9 L173.6 287.3 L173.8 287.3 L174.1 287.2 L174.3 287.2 L174.6 287.2 L174.8 287.3 L175.1 287.5 L175.3 287.3 L175.6 287.1 L175.8 287.3 L176.1 287.5 L176.3 287.5 L176.6 287.4 L176.8 287.6 L177.1 287.2 L177.3 286.9 L177.6 287 L177.8 286.6 L178.1 285.7 L178.3 284.7 L178.6 283.5 L178.8 282 L179.1 281.5 L179.3 282.2 L179.6 283.6 L179.8 285.3 L180.1 286.3 L180.3 287 L180.6 287 L180.8 287 L181.1 286.9 L181.3 287 L181.6 286.8 L181.8 286.9 L182.1 287 L182.3 287 L182.6 286.9 L182.8 286.8 L183.1 287.2 L183.3 287.1 L183.6 287.2 L183.8 287.2 L184.1 287.3 L184.3 287.1 L184.6 287.1 L184.8 286.9 L185.1 287.1 L185.3 287.4 L185.6 287.4 L185.8 287.6 L186.1 287.3 L186.3 287 L186.6 287.1 L186.8 287.1 L187.1 287.1 L187.3 287 L187.6 286.9 L187.8 286.7 L188.1 286 L188.3 284 L188.6 281.2 L188.8 278.6 L189.1 277.5 L189.3 279.2 L189.6 282.1 L189.8 284.3 L190.1 286 L190.3 286.8 L190.6 287 L190.8 286.9 L191.1 286.8 L191.3 286.8 L191.6 286.8 L191.8 286.9 L192.1 287.1 L192.3 287 L192.6 286.9 L192.8 287.1 L193.1 287 L193.3 286.9 L193.6 287 L193.8 287 L194.1 286.9 L194.3 287 L194.6 287 L194.8 287.3 L195.1 287.3 L195.3 287.6 L195.6 287.6 L195.8 287.7 L196.1 287.6 L196.3 287.5 L196.6 287.7 L196.8 287.7 L197.1 287.8 L197.3 287.8 L197.6 287.8 L197.8 287.5 L198.1 287.7 L198.3 287.5 L198.6 287.3 L198.8 287.1 L199.1 287 L199.3 287 L199.6 287.2 L199.8 287.1 L200.1 286.9 L200.3 287.2 L200.6 287.3 L200.8 287 L201.1 286.9 L201.3 286.8 L201.6 286.9 L201.8 287.2 L202.1 287.5 L202.3 287.5 L202.6 287.3 L202.8 287.2 L203.1 287.2 L203.3 287.1 L203.6 286.9 L203.8 287 L204.1 287.2 L204.3 287.3 L204.6 287 L204.8 287 L205.1 286.8 L205.3 286.8 L205.6 286.5 L205.8 286.4 L206.1 285.9 L206.3 284.8 L206.6 283.9 L206.8 283.6 L207.1 283.3 L207.3 283.6 L207.6 284.3 L207.8 285.2 L208.1 286.1 L208.3 286.5 L208.6 287 L208.8 287.1 L209.1 286.9 L209.3 287.1 L209.6 287 L209.8 286.7 L210.1 287.1 L210.3 286.7 L210.6 286.8 L210.8 286.8 L211.1 287 L211.3 286.9 L211.6 286.7 L211.8 286.5 L212.1 286.4 L212.3 286.5 L212.6 286.4 L212.8 286.5 L213.1 286.3 L213.3 286.2 L213.6 286 L213.8 286.2 L214.1 286.2 L214.3 286.2 L214.6 285.9 L214.8 285.6 L215.1 285.1 L215.3 285 L215.6 284.5 L215.8 283.7 L216.1 282.9 L216.3 281.8 L216.6 280.4 L216.8 277.8 L217.1 272.7 L217.3 264.9 L217.6 252.6 L217.8 236 L218.1 215.8 L218.3 194.5 L218.6 177.5 L218.8 170.6 L219.1 177 L219.3 194.2 L219.6 215.5 L219.8 235.7 L220.1 252.5 L220.3 264.6 L220.6 272.4 L220.8 277.3 L221.1 280.2 L221.3 281.9 L221.6 283.1 L221.8 283.8 L222.1 284.6 L222.3 285.1 L222.6 285.5 L222.8 285.8 L223.1 285.9 L223.3 286 L223.6 286.3 L223.8 286.2 L224.1 286.3 L224.3 286.4 L224.6 286.5 L224.8 286.3 L225.1 286.2 L225.3 286 L225.6 286.1 L225.8 286.2 L226.1 286.4 L226.3 286.3 L226.6 285.9 L226.8 285.7 L227.1 284.8 L227.3 283.9 L227.6 282.7 L227.8 282.1 L228.1 282 L228.3 282.7 L228.6 283.7 L228.8 284.7 L229.1 285.6 L229.3 286.2 L229.6 286.6 L229.8 286.5 L230.1 286.6 L230.3 286.9 L230.6 286.6 L230.8 286.9 L231.1 286.8 L231.3 286.6 L231.6 286.1 L231.8 286 L232.1 285.6 L232.3 285.3 L232.6 284.5 L232.8 282.7 L233.1 279.2 L233.3 273.7 L233.6 267.1 L233.8 261.8 L234.1 260.2 L234.3 263.8 L234.6 269.8 L234.8 276.1 L235.1 280.5 L235.3 283.2 L235.6 284.6 L235.8 285.5 L236.1 286 L236.3 286 L236.6 286.2 L236.8 286.3 L237.1 286.1 L237.3 285.8 L237.6 285.7 L237.8 285.4 L238.1 284.7 L238.3 282.8 L238.6 279.3 L238.8 274.2 L239.1 268 L239.3 263 L239.6 261.3 L239.8 264.5 L240.1 270.5 L240.3 276.6 L240.6 280.8 L240.8 283.3 L241.1 284.7 L241.3 285.6 L241.6 286.1 L241.8 286.2 L242.1 286.2 L242.3 286.5 L242.6 286.7 L242.8 286.9 L243.1 287 L243.3 286.8 L243.6 286.8 L243.8 287 L244.1 287.3 L244.3 287.1 L244.6 287.3 L244.8 287.3 L245.1 287.4 L245.3 287.1 L245.6 287.2 L245.8 287.3 L246.1 287.2 L246.3 286.9 L246.6 286.8 L246.8 286.6 L247.1 286.5 L247.3 286.4 L247.6 286.6 L247.8 286.5 L248.1 286.7 L248.3 286.9 L248.6 287 L248.8 287.1 L249.1 287 L249.3 287.1 L249.6 287.2 L249.8 287 L250.1 287.1 L250.3 286.6 L250.6 286.2 L250.8 285.9 L251.1 285.7 L251.3 285.6 L251.6 285.5 L251.8 285.5 L252.1 285.4 L252.3 284.9 L252.6 284.5 L252.8 284 L253.1 283.3 L253.3 281.9 L253.6 280 L253.8 276.4 L254.1 270.7 L254.3 261.7 L254.6 249.2 L254.8 233.5 L255.1 215.9 L255.3 201.2 L255.6 193.8 L255.8 197 L256.1 209.2 L256.3 226 L256.6 242.8 L256.8 257.1 L257.1 267.8 L257.3 274.7 L257.6 278.9 L257.8 281.5 L258.1 283.1 L258.3 284.1 L258.6 284.7 L258.8 284.9 L259.1 285.1 L259.3 285.6 L259.6 285.8 L259.8 285.7 L260.1 285.9 L260.3 285.9 L260.6 286.2 L260.8 286.1 L261.1 286.1 L261.3 286.1 L261.6 286.3 L261.8 286.7 L262.1 286.7 L262.3 286.7 L262.6 287 L262.8 286.7 L263.1 286.7 L263.3 286.9 L263.6 286.7 L263.8 286.9 L264.1 286.8 L264.3 286.6 L264.6 286.6 L264.8 286.7 L265.1 286.7 L265.3 286.8 L265.6 286.6 L265.8 286.6 L266.1 286.9 L266.3 286.9 L266.6 286.9 L266.8 286.6 L267.1 286.6 L267.3 286.9 L267.6 286.9 L267.8 286.8 L268.1 286.5 L268.3 286.4 L268.6 286.3 L268.8 285.8 L269.1 285 L269.3 283.8 L269.6 281.7 L269.8 279 L270.1 275.9 L270.3 274 L270.6 274.4 L270.8 276.4 L271.1 279.4 L271.3 282.1 L271.6 284.2 L271.8 285.3 L272.1 286.3 L272.3 286.6 L272.6 286.9 L272.8 286.7 L273.1 286.8 L273.3 286.7 L273.6 286.9 L273.8 287.1 L274.1 286.8 L274.3 286.7 L274.6 286.5 L274.8 286.4 L275.1 286.3 L275.3 286.3 L275.6 286 L275.8 285.7 L276.1 285.4 L276.3 284.6 L276.6 283.8 L276.8 283 L277.1 282.1 L277.3 281.2 L277.6 281 L277.8 281.9 L278.1 283.2 L278.3 284.1 L278.6 284.5 L278.8 284.8 L279.1 285.3 L279.3 285.6 L279.6 285.2 L279.8 285 L280.1 284.9 L280.3 284.8 L280.6 284.9 L280.8 284.7 L281.1 284.8 L281.3 284.4 L281.6 284.3 L281.8 284.3 L282.1 284 L282.3 283 L282.6 281.6 L282.8 279.8 L283.1 277.1 L283.3 274.1 L283.6 271.4 L283.8 270.3 L284.1 271.6 L284.3 274.1 L284.6 277.1 L284.8 279.5 L285.1 281.3 L285.3 282.6 L285.6 283 L285.8 283.3 L286.1 283.6 L286.3 283.4 L286.6 283.6 L286.8 283.4 L287.1 283.1 L287.3 282.4 L287.6 281.3 L287.8 279.2 L288.1 277 L288.3 274.6 L288.6 273.5 L288.8 274.1 L289.1 275.9 L289.3 278.4 L289.6 280.7 L289.8 282.4 L290.1 283.7 L290.3 284.2 L290.6 284.5 L290.8 284.7 L291.1 284.8 L291.3 284.7 L291.6 284.2 L291.8 282.8 L292.1 280.6 L292.3 278.1 L292.6 274.4 L292.8 271 L293.1 268.8 L293.3 268.6 L293.6 270.7 L293.8 274.3 L294.1 277.7 L294.3 280.8 L294.6 283.2 L294.8 284.4 L295.1 285.2 L295.3 285.7 L295.6 286 L295.8 286.1 L296.1 286.3 L296.3 286.2 L296.6 286.1 L296.8 286.3 L297.1 286.3 L297.3 286.7 L297.6 286.7 L297.8 286.6 L298.1 286.9 L298.3 287.1 L298.6 286.9 L298.8 287.1 L299.1 287.2 L299.3 287.1 L299.6 287.2 L299.8 287 L300.1 286.9 L300.3 287.2 L300.6 287.1 L300.8 287.3 L301.1 287 L301.3 286.8 L301.6 286.5 L301.8 286.5 L302.1 286.3 L302.3 285.7 L302.6 285.1 L302.8 284.9 L303.1 284.5 L303.3 284.4 L303.6 284.2 L303.8 284.6 L304.1 284.9 L304.3 285.6 L304.6 286.2 L304.8 286.6 L305.1 286.7 L305.3 287.1 L305.6 287 L305.8 286.9 L306.1 287.1 L306.3 286.9 L306.6 286.8 L306.8 286.9 L307.1 287.1 L307.3 287.4 L307.6 287.5 L307.8 287.2 L308.1 287.3 L308.3 287.5 L308.6 287.3 L308.8 287.4 L309.1 287.3 L309.3 287.2 L309.6 287 L309.8 287.2 L310.1 287.3 L310.3 287.5 L310.6 287.5 L310.8 287.3 L311.1 287.2 L311.3 287.1 L311.6 287.4 L311.8 287.3 L312.1 287.1 L312.3 287.1 L312.6 287 L312.8 287.1 L313.1 287.2 L313.3 287.4 L313.6 287.2 L313.8 287.1 L314.1 287.2 L314.3 287.3 L314.6 287.3 L314.8 287.4 L315.1 287.6 L315.3 287.4 L315.6 287.3 L315.8 287.3 L316.1 287.4 L316.3 287.6 L316.6 287.6 L316.8 287.6 L317.1 287.5 L317.3 287.6 L317.6 287.7 L317.8 287.5 L318.1 287.3 L318.3 287.2 L318.6 287.2 L318.8 287.4 L319.1 287.3 L319.3 287.3 L319.6 287.4 L319.8 287.6 L320.1 287.2 L320.3 287.2 L320.6 286.9 L320.8 286.4 L321.1 286.3 L321.3 286.1 L321.6 285.9 L321.8 285.4 L322.1 285.6 L322.3 285.6 L322.6 285.9 L322.8 286.3 L323.1 286.5 L323.3 286.7 L323.6 286.8 L323.8 286.8 L324.1 286.8 L324.3 287.1 L324.6 287.1 L324.8 287.4 L325.1 287.2 L325.3 287.1 L325.6 287.1 L325.8 287.4 L326.1 287.6 L326.3 287.7 L326.6 287.7 L326.8 287.4 L327.1 287.3 L327.3 287.2 L327.6 287 L327.8 287.2 L328.1 287.2 L328.3 287 L328.6 287.2 L328.8 287.5 L329.1 287.7 L329.3 287.6 L329.6 287.3 L329.8 287.5 L330.1 287.3 L330.3 287.4 L330.6 287.2 L330.8 287.5 L331.1 287.5 L331.3 287.5 L331.6 287.3 L331.8 287.4 L332.1 287.7 L332.3 287.6 L332.6 287.4 L332.8 287.4 L333.1 287.6 L333.3 287.5 L333.6 287.6 L333.8 287.8 L334.1 287.6 L334.3 287.7 L334.6 287.7 L334.8 287.4 L335.1 287.2 L335.3 287.5 L335.6 287.5 L335.8 287.4 L336.1 287.7 L336.3 287.6 L336.6 287.6 L336.8 287.4 L337.1 287.6 L337.3 287.4 L337.6 287.4 L337.8 287.6 L338.1 287.6 L338.3 287.4 L338.6 287.2 L338.8 287.4 L339.1 287.5 L339.3 287.3 L339.6 287.6 L339.8 287.4 L340.1 287.2 L340.3 287.1 L340.6 287.2 L340.8 287.3 L341.1 287.5 L341.3 287.3 L341.6 287.5 L341.8 287.3 L342.1 287.4 L342.3 287.3 L342.6 287.2 L342.8 287.1 L343.1 287.3 L343.3 287.1 L343.6 287.4 L343.8 287.3 L344.1 287.4 L344.3 287.5 L344.6 287.5 L344.8 287.7 L345.1 287.8 L345.3 287.6 L345.6 287.5 L345.8 287.7 L346.1 287.4 L346.3 287.4 L346.6 287.4 L346.8 287.6 L347.1 287.4 L347.3 287.5 L347.6 287.6 L347.8 287.7 L348.1 287.4 L348.3 287.6 L348.6 287.5 L348.8 287.7 L349.1 287.7 L349.3 287.6 L349.6 287.7 L349.8 287.7 L350.1 287.6 L350.3 287.7 L350.6 287.6 L350.8 287.7 L351.1 287.7 L351.3 287.8 L351.6 287.5 L351.8 287.5 L352.1 287.2 L352.3 287.4 L352.6 287.6 L352.8 287.7 L353.1 287.4 L353.3 287.4 L353.6 287.4 L353.8 287.2 L354.1 287.1 L354.3 287.5 L354.6 287.7 L354.8 287.4 L355.1 287.6 L355.3 287.6 L355.6 287.5 L355.8 287.6 L356.1 287.4 L356.3 287.3 L356.6 287.1 L356.8 287.3 L357.1 287.3 L357.3 287.5 L357.6 287.5 L357.8 287.4 L358.1 287.3 L358.3 287.5 L358.6 287.4 L358.8 287.4 L359.1 287.6 L359.3 287.5 L359.6 287.6 L359.8 287.3 L360.1 287.2 L360.3 287.4 L360.6 287.2 L360.8 287 L361.1 286.9 L361.3 287.2 L361.6 287 L361.8 287.1 L362.1 287.2 L362.3 287.4 L362.6 287.4 L362.8 287.4 L363.1 287.1 L363.3 287.4 L363.6 287.5 L363.8 287.5 L364.1 287.7 L364.3 287.6 L364.6 287.7 L364.8 287.8 L365.1 287.7 L365.3 287.3 L365.6 287.5 L365.8 287.7 L366.1 287.4 L366.3 287.2 L366.6 287.1 L366.8 286.9 L367.1 287 L367.3 286.8 L367.6 286.8 L367.8 286.7 L368.1 286.8 L368.3 286.8 L368.6 287.1 L368.8 287 L369.1 286.9 L369.3 287.2 L369.6 287.4 L369.8 287.4 L370.1 287.1 L370.3 287.1 L370.6 287 L370.8 286.9 L371.1 286.7 L371.3 286.7 L371.6 286.9 L371.8 286.9 L372.1 287 L372.3 287 L372.6 286.9 L372.8 286.9 L373.1 286.9 L373.3 286.7 L373.6 286.3 L373.8 285.9 L374.1 285.4 L374.3 284.6 L374.6 283 L374.8 280.2 L375.1 276 L375.3 270.4 L375.6 263.7 L375.8 256.9 L376.1 251.5 L376.3 249.1 L376.6 251.3 L376.8 257 L377.1 263.8 L377.3 270.1 L377.6 275.6 L377.8 279.5 L378.1 281.9 L378.3 283.4 L378.6 284.1 L378.8 284.5 L379.1 284.9 L379.3 284.9 L379.6 284.9 L379.8 285.1 L380.1 285.5 L380.3 285.7 L380.6 285.5 L380.8 285.6 L381.1 285.2 L381.3 284.9 L381.6 284.5 L381.8 284.2 L382.1 284.2 L382.3 284 L382.6 283.5 L382.8 282.8 L383.1 281.6 L383.3 280.3 L383.6 278.8 L383.8 277.5 L384.1 276.9 L384.3 277.4 L384.6 278.5 L384.8 280 L385.1 280.9 L385.3 281.7 L385.6 282.5 L385.8 282.5 L386.1 282.8 L386.3 282.8 L386.6 283.1 L386.8 283.3 L387.1 283.2 L387.3 283.5 L387.6 283.6 L387.8 283.7 L388.1 284 L388.3 284.3 L388.6 284.3 L388.8 284.6 L389.1 284.5 L389.3 284.7 L389.6 284.6 L389.8 285 L390.1 285.4 L390.3 285.5 L390.6 285.4 L390.8 285.6 L391.1 285.7 L391.3 285.7 L391.6 285.6 L391.8 285.5 L392.1 285.5 L392.3 285.1 L392.6 284.9 L392.8 284.4 L393.1 283.9 L393.3 283.4 L393.6 283.4 L393.8 284.1 L394.1 284.5 L394.3 284.9 L394.6 285.5 L394.8 286.3 L395.1 286.4 L395.3 286.6 L395.6 286.6 L395.8 286.9 L396.1 287 L396.3 286.8 L396.6 287.1 L396.8 287.1 L397.1 287.2 L397.3 287.2 L397.6 287.4 L397.8 287.1 L398.1 287 L398.3 287 L398.6 287 L398.8 287.2 L399.1 287.3 L399.3 287.2 L399.6 287.2 L399.8 287.5 L400.1 287.5 L400.3 287.4 L400.6 287.5 L400.8 287.5 L401.1 287.4 L401.3 287.4 L401.6 287.2 L401.8 287.2 L402.1 287.5 L402.3 287.3 L402.6 287.3 L402.8 287.4 L403.1 287.4 L403.3 287.2 L403.6 287.3 L403.8 287.4 L404.1 287.2 L404.3 287 L404.6 287.3 L404.8 287.5 L405.1 287.3 L405.3 287.1 L405.6 287.2 L405.8 287.2 L406.1 287.3 L406.3 287.1 L406.6 287.2 L406.8 287.1 L407.1 287.1 L407.3 287.3 L407.6 287.3 L407.8 287.6 L408.1 287.7 L408.3 287.7 L408.6 287.8 L408.8 287.5 L409.1 287.5 L409.3 287.4 L409.6 287.4 L409.8 287.2 L410.1 287.5 L410.3 287.4 L410.6 287.6 L410.8 287.8 L411.1 287.9 L411.3 287.7 L411.6 287.8 L411.8 288 L412.1 287.6 L412.3 287.7 L412.6 287.7 L412.8 287.6 L413.1 287.5 L413.3 287.3 L413.6 287.3 L413.8 287.6 L414.1 287.5 L414.3 287.3 L414.6 287.4 L414.8 287.4 L415.1 287.5 L415.3 287.4 L415.6 287.3 L415.8 287.1 L416.1 287.4 L416.3 287.5 L416.6 287.3 L416.8 287.4 L417.1 287.4 L417.3 287.4 L417.6 287.7 L417.8 287.7 L418.1 287.6 L418.3 287.4 L418.6 287.5 L418.8 287.3 L419.1 287.6 L419.3 287.3 L419.6 287.3 L419.8 287.3 L420.1 287.3 L420.3 287.1 L420.6 287.1 L420.8 287.4 L421.1 287.6 L421.3 287.4 L421.6 287.4 L421.8 287.2 L422.1 287 L422.3 287 L422.6 287.4 L422.8 287.3 L423.1 287.2 L423.3 287 L423.6 287 L423.8 287.4 L424.1 287.5 L424.3 287.7 L424.6 287.8 L424.8 287.9 L425.1 287.6 L425.3 287.4 L425.6 287.3 L425.8 287.1 L426.1 287 L426.3 287.2 L426.6 287.3 L426.8 287.1 L427.1 287.1 L427.3 287.3 L427.6 287.5 L427.8 287.6 L428.1 287.7 L428.3 287.8 L428.6 287.7 L428.8 287.5 L429.1 287.4 L429.3 287.1 L429.6 286.6 L429.8 286.2 L430.1 285.8 L430.3 285.2 L430.6 284.6 L430.8 284.5 L431.1 284.7 L431.3 285.5 L431.6 286 L431.8 286.6 L432.1 287.1 L432.3 287.3 L432.6 287.3 L432.8 287.3 L433.1 287.2 L433.3 287.4 L433.6 287.6 L433.8 287.7 L434.1 287.5 L434.3 287.3 L434.6 287 L434.8 287.2 L435.1 287.1 L435.3 286.9 L435.6 287 L435.8 287 L436.1 286.9 L436.3 287.2 L436.6 287.3 L436.8 287.2 L437.1 287.4 L437.3 287.2 L437.6 287.5 L437.8 287.3 L438.1 287.4 L438.3 287.5 L438.6 287.6 L438.8 287.5 L439.1 287.7 L439.3 287.7 L439.6 287.7 L439.8 287.4 L440.1 287.2 L440.3 287.3 L440.6 287.3 L440.8 287.1 L441.1 287.3 L441.3 287.3 L441.6 287.3 L441.8 287.3 L442.1 287.5 L442.3 287.4 L442.6 287.4 L442.8 287.4 L443.1 287.5 L443.3 287.4 L443.6 287.2 L443.8 287.2 L444.1 287.3 L444.3 287.4 L444.6 287.2 L444.8 287.2 L445.1 287.3 L445.3 287.1 L445.6 286.9 L445.8 287.3 L446.1 287 L446.3 287.1 L446.6 287 L446.8 286.8 L447.1 286.8 L447.3 286.7 L447.6 286.8 L447.8 287.1 L448.1 286.9 L448.3 286.8 L448.6 287 L448.8 287 L449.1 286.7 L449.3 286.6 L449.6 286.5 L449.8 286.7 L450.1 286.6 L450.3 286.3 L450.6 286.2 L450.8 285.9 L451.1 285.3 L451.3 284.6 L451.6 283.3 L451.8 280.9 L452.1 277.2 L452.3 272.4 L452.6 267 L452.8 262 L453.1 259 L453.3 260.1 L453.6 264.4 L453.8 269.7 L454.1 274.9 L454.3 278.9 L454.6 281.7 L454.8 283.4 L455.1 284.4 L455.3 285 L455.6 285.2 L455.8 285.3 L456.1 285.3 L456.3 285 L456.6 285 L456.8 284.9 L457.1 284.5 L457.3 284.6 L457.6 284.4 L457.8 284.3 L458.1 284.3 L458.3 284.4 L458.6 284.5 L458.8 284.4 L459.1 284.6 L459.3 284.5 L459.6 284.5 L459.8 284.8 L460.1 284.7 L460.3 284.8 L460.6 285.1 L460.8 284.8 L461.1 285 L461.3 285 L461.6 284.8 L461.8 284.7 L462.1 284.6 L462.3 284.1 L462.6 284 L462.8 284.3 L463.1 284.8 L463.3 285.5 L463.6 286 L463.8 286.5 L464.1 286.4 L464.3 286.5 L464.6 286.9 L464.8 287.2 L465.1 287.3 L465.3 287.1 L465.6 287.3 L465.8 287.3 L466.1 287.3 L466.3 287.4 L466.6 287.5 L466.8 287.5 L467.1 287.7 L467.3 287.6 L467.6 287.5 L467.8 287.5 L468.1 287.5 L468.3 287.2 L468.6 287.5 L468.8 287.3 L469.1 287.3 L469.3 287.1 L469.6 287 L469.8 287.3 L470.1 287.2 L470.3 287.1 L470.6 287.4 L470.8 287.2 L471.1 287.3 L471.3 287.4 L471.6 287.6 L471.8 287.5 L472.1 287.4 L472.3 287.2 L472.6 287.2 L472.8 286.9 L473.1 286.8 L473.3 286.8 L473.6 286.8 L473.8 287.1 L474.1 287.4 L474.3 287.2 L474.6 287.1 L474.8 287 L475.1 287 L475.3 287 L475.6 286.6 L475.8 286.4 L476.1 285.8 L476.3 284.9 L476.6 284 L476.8 282.3 L477.1 280.8 L477.3 279.8 L477.6 279.5 L477.8 280.4 L478.1 281.7 L478.3 283.5 L478.6 284.5 L478.8 285.8 L479.1 286.4 L479.3 286.5 L479.6 286.7 L479.8 287.2 L480.1 287.3 L480.3 287.5 L480.6 287.6 L480.8 287.3 L481.1 287.2 L481.3 287.2 L481.6 287.5 L481.8 287.7 L482.1 287.4 L482.3 287.7 L482.6 287.6 L482.8 287.4 L483.1 287.2 L483.3 287.2 L483.6 287.3 L483.8 287.3 L484.1 287.2 L484.3 287.5 L484.6 287.5 L484.8 287.4 L485.1 287.5 L485.3 287.4 L485.6 287.4 L485.8 287.2 L486.1 287.1 L486.3 287.5 L486.6 287.5 L486.8 287.5 L487.1 287.6 L487.3 287.6 L487.6 287.6 L487.8 287.5 L488.1 287.3 L488.3 287.1 L488.6 287 L488.8 287.1 L489.1 286.9 L489.3 287.2 L489.6 287.2 L489.8 287.1 L490.1 287.1 L490.3 287.2 L490.6 287.1 L490.8 287.4 L491.1 287.4 L491.3 287.1 L491.6 287 L491.8 287.3 L492.1 287.3 L492.3 287.1 L492.6 287.2 L492.8 286.7 L493.1 286.7 L493.3 286.5 L493.6 286.1 L493.8 285.5 L494.1 285.4 L494.3 285.8 L494.6 286.2 L494.8 286.4 L495.1 286.6 L495.3 286.7 L495.6 287 L495.8 287 L496.1 287.1 L496.3 287.4 L496.6 287.6 L496.8 287.6 L497.1 287.7 L497.3 287.4 L497.6 287.7 L497.8 287.8 L498.1 287.7 L498.3 287.8 L498.6 287.6 L498.8 287.8 L499.1 287.6 L499.3 287.8 L499.6 287.9 L499.8 288 L500.1 288 L500.3 287.6 L500.6 287.4 L500.8 287.5 L501.1 287.7 L501.3 287.8 L501.6 287.4 L501.8 287.4 L502.1 287.3 L502.3 287.2 L502.6 287.1 L502.8 287.2 L503.1 287.2 L503.3 287.2 L503.6 287.2 L503.8 287.5 L504.1 287.6 L504.3 287.7 L504.6 287.9 L504.8 287.5 L505.1 287.7 L505.3 287.4 L505.6 287.3 L505.8 287.5 L506.1 287.6 L506.3 287.6 L506.6 287.6 L506.8 287.7 L507.1 287.6 L507.3 287.4 L507.6 287.3 L507.8 287.1 L508.1 287 L508.3 287.4 L508.6 287.7 L508.8 287.5 L509.1 287.5 L509.3 287.3 L509.6 287.5 L509.8 287.5 L510.1 287.3 L510.3 287.6 L510.6 287.8 L510.8 287.5 L511.1 287.4 L511.3 287.3 L511.6 287.4 L511.8 287.4 L512 287.3 L512.3 287.2 L512.5 287.4 L512.8 287.4 L513 287.4 L513.3 287.5 L513.5 287.5 L513.8 287.7 L514 287.6 L514.3 287.7 L514.5 287.9 L514.8 287.8 L515 287.8 L515.3 287.8 L515.5 287.8 L515.8 287.6 L516 287.5 L516.3 287.3 L516.5 287.1 L516.8 287.3 L517 287.3 L517.3 287.2 L517.5 287 L517.8 286.9 L518 287.2 L518.3 287.2 L518.5 287.2 L518.8 287.4 L519 287.6 L519.3 287.7 L519.5 287.4 L519.8 287.7 L520 287.4 L520.3 287.3 L520.5 287.3 L520.8 286.9 L521 286.8 L521.3 286.5 L521.5 286.1 L521.8 285.6 L522 285.7 L522.3 285.7 L522.5 286.1 L522.8 286.6 L523 286.8 L523.3 286.9 L523.5 287 L523.8 287.5 L524 287.6 L524.3 287.5 L524.5 287.5 L524.8 287.6 L525 287.4 L525.3 287.2 L525.5 287.1 L525.8 287.2 L526 287.4 L526.3 287.7 L526.5 287.7 L526.8 287.8 L527 288 L527.3 287.8 L527.5 287.7 L527.8 287.6 L528 287.5 L528.3 287.6 L528.5 287.6 L528.8 287.4 L529 287.7 L529.3 287.6 L529.5 287.7 L529.8 287.7 L530 287.7 L530.3 287.7 L530.5 287.4 L530.8 287.2 L531 287.4 L531.3 287.4 L531.5 287.2 L531.8 287.5 L532 287.6 L532.3 287.7 L532.5 287.6 L532.8 287.4 L533 287.5 L533.3 287.4 L533.5 287.5 L533.8 287.6 L534 287.4 L534.3 287.2 L534.5 287.3 L534.8 287.5 L535 287.6 L535.3 287.8 L535.5 287.6 L535.8 287.7 L536 287.6 L536.3 287.6 L536.5 287.5 L536.8 287.3 L537 287.4 L537.3 287.5 L537.5 287.7 L537.8 287.7 L538 287.6 L538.3 287.7 L538.5 287.7 L538.8 287.6 L539 287.4 L539.3 287.5 L539.5 287.5 L539.8 287.2 L540 287.1 L540.3 287.2 L540.5 287.4 L540.8 287.5 L541 287.5 L541.3 287.7 L541.5 287.5 L541.8 287.4 L542 287.6 L542.3 287.7 L542.5 287.6 L542.8 287.8 L543 287.4 L543.3 287.5 L543.5 287.7 L543.8 287.8 L544 287.6 L544.3 287.7 L544.5 287.7 L544.8 287.8 L545 287.6 L545.3 287.7 L545.5 287.7 L545.8 287.9 L546 287.7 L546.3 287.6 L546.5 287.3 L546.8 287.5 L547 287.3 L547.3 287.5 L547.5 287.3 L547.8 287.2 L548 287.5 L548.3 287.5 L548.5 287.6 L548.8 287.5 L549 287.4 L549.3 287.3 L549.5 287.6 L549.8 287.4 L550 287.7 L550.3 287.8 L550.5 287.8 L550.8 287.6 L551 287.7 L551.3 287.8 L551.5 287.8 L551.8 287.5 L552 287.6 L552.3 287.8 L552.5 287.8 L552.8 287.5 L553 287.3 L553.3 287.4 L553.5 287.2 L553.8 287 L554 287.1 L554.3 287.1 L554.5 287.2 L554.8 287.1 L555 287.2 L555.3 287.4 L555.5 287.3 L555.8 287.4 L556 287.5 L556.3 287.6 L556.5 287.6 L556.8 287.7 L557 287.6 L557.3 287.8 L557.5 287.5 L557.8 287.3 L558 287.5 L558.3 287.7 L558.5 287.4 L558.8 287.6 L559 287.6 L559.3 287.8 L559.5 287.8 L559.8 287.6 L560 287.4 L560.3 287.5 L560.5 287.6 L560.8 287.6 L561 287.4 L561.3 287.4 L561.5 287.6 L561.8 287.6 L562 287.4 L562.3 287.7 L562.5 287.8 L562.8 287.6 L563 287.4 L563.3 287.5 L563.5 287.4 L563.8 287.4 L564 287.5 L564.3 287.4 L564.5 287.4 L564.8 287.2 L565 287.1 L565.3 287.2 L565.5 287.2 L565.8 287.4 L566 287.2 L566.3 287.4 L566.5 287.2 L566.8 287 L567 286.7 L567.3 286.5 L567.5 286.5 L567.8 285.8 L568 285.3 L568.3 284.5 L568.5 283.5 L568.8 282.3 L569 281.6 L569.3 281.4 L569.5 281.8 L569.8 282.7 L570 283.6 L570.3 284.8 L570.5 285.6 L570.8 286.1 L571 286.4 L571.3 286.6 L571.5 286.6 L571.8 286.8 L572 286.8 L572.3 287 L572.5 287 L572.8 287.2 L573 287.2 L573.3 287.4 L573.5 287.7 L573.8 287.8 L574 287.6 L574.3 287.8 L574.5 287.7 L574.8 287.8 L575 287.7 L575.3 287.6 L575.5 287.4 L575.8 287.6 L576 287.5 L576.3 287.7 L576.5 287.7 L576.8 287.6 L577 287.3 L577.3 287.2 L577.5 287.3 L577.8 287.3 L578 287.4 L578.3 287.1 L578.5 287.2 L578.8 287.5 L579 287.7 L579.3 287.8 L579.5 287.8 L579.8 287.7 L580 287.9 L580.3 288 L580.5 287.8 L580.8 287.7 L581 287.9 L581.3 287.8 L581.5 287.7 L581.8 287.6 L582 287.6 L582.3 287.6 L582.5 287.8 L582.8 288 L583 288.1 L583.3 288.2 L583.5 287.7 L583.8 287.4 L584 287.3 L584.3 287.6 L584.5 287.6" stroke="#333" stroke-width="1.5"/>
<path d="M53.3 437 L53.5 436.8 L53.8 436.5 L54 436.8 L54.3 436.2 L54.5 436.3 L54.8 436.6 L55 436.1 L55.3 436.1 L55.5 436.2 L55.8 435.7 L56 435.6 L56.3 435.8 L56.5 435.7 L56.8 435.9 L57 435.5 L57.3 435.2 L57.5 434.9 L57.8 435 L58 435.4 L58.3 435.4 L58.5 435.5 L58.8 435.3 L59 435.4 L59.3 434.9 L59.5 434.7 L59.8 434.9 L60 435 L60.3 434.8 L60.5 434.4 L60.8 434.2 L61 434.1 L61.3 434 L61.5 434.4 L61.8 434.1 L62 434.5 L62.3 434.7 L62.5 434.2 L62.8 434.1 L63 434.1 L63.3 433.6 L63.5 433.7 L63.8 434.1 L64 433.7 L64.3 433.8 L64.5 433.5 L64.8 433.7 L65 434 L65.3 433.7 L65.5 433.3 L65.8 433 L66 433.2 L66.3 432.9 L66.5 432.8 L66.8 433 L67 433.5 L67.3 433.4 L67.5 433.3 L67.8 433.5 L68 433.1 L68.3 433.2 L68.5 433 L68.8 433.2 L69 433.6 L69.3 433.1 L69.5 433.2 L69.8 433.3 L70 433 L70.3 432.8 L70.5 433.3 L70.8 433.7 L71 433.2 L71.3 433.4 L71.5 433.7 L71.8 433.3 L72 433.3 L72.3 432.9 L72.5 432.8 L72.8 433 L73 433.1 L73.3 433.3 L73.5 432.9 L73.8 432.8 L74 433.2 L74.3 433.2 L74.5 433.1 L74.8 433 L75 433.5 L75.3 433.4 L75.5 432.9 L75.8 433.2 L76 433 L76.3 433 L76.5 432.8 L76.8 432.8 L77 432.8 L77.3 432.5 L77.5 432.8 L77.8 432.6 L78 433 L78.3 432.7 L78.5 433.1 L78.8 433.4 L79 433.3 L79.3 433.5 L79.5 433.2 L79.8 433.4 L80 433.3 L80.3 433.1 L80.5 433.6 L80.8 433.4 L81 433.3 L81.3 433.7 L81.5 433.5 L81.8 433.6 L82 433.3 L82.3 433.7 L82.5 433.4 L82.8 433.1 L83 433.7 L83.3 433.4 L83.5 433.9 L83.8 434.2 L84 434.2 L84.3 433.6 L84.5 433.3 L84.8 433.2 L85 433.3 L85.3 433.6 L85.5 434.1 L85.8 433.9 L86 433.6 L86.3 433.8 L86.5 433.6 L86.8 433.4 L87 433.7 L87.3 434 L87.5 433.7 L87.8 433.8 L88 434.1 L88.3 434.4 L88.5 434.3 L88.8 434.6 L89 434.3 L89.3 434.5 L89.5 434.7 L89.8 434.9 L90 434.8 L90.3 434.4 L90.5 434.1 L90.8 434.2 L91 434.1 L91.3 434.4 L91.5 434.1 L91.8 434.5 L92 434.4 L92.3 434.1 L92.5 434 L92.8 434.2 L93 434.5 L93.3 434.5 L93.5 434.3 L93.8 434.5 L94 435 L94.3 435 L94.5 435.4 L94.8 434.9 L95 435.4 L95.3 435.6 L95.5 435.5 L95.8 435.4 L96 435.4 L96.3 435.7 L96.5 435.2 L96.8 435.3 L97 435.3 L97.3 435.1 L97.5 435.4 L97.8 435.5 L98 435.1 L98.3 435.4 L98.5 435.3 L98.8 435.3 L99 435.5 L99.3 435.1 L99.5 435.3 L99.8 435.2 L100 435.6 L100.3 435.4 L100.5 435.7 L100.8 435.8 L101 435.8 L101.3 436.1 L101.5 435.5 L101.8 435.6 L102 435.7 L102.3 435.8 L102.5 435.7 L102.8 435.3 L103 435.1 L103.3 435.4 L103.5 435.2 L103.8 434.9 L104 435 L104.3 435.1 L104.5 435.3 L104.8 434.9 L105 435.2 L105.3 434.9 L105.5 434.8 L105.8 433.8 L106 433.6 L106.3 433.1 L106.5 433.3 L106.8 433.9 L107 434.6 L107.3 434.7 L107.5 435 L107.8 435.1 L108 435.6 L108.3 435.5 L108.5 435.3 L108.8 435.2 L109 435 L109.3 435.6 L109.5 436.1 L109.8 435.9 L110 436.1 L110.3 436 L110.5 436 L110.8 435.8 L111 436 L111.3 435.7 L111.5 435.6 L111.8 435.7 L112 435.5 L112.3 435.6 L112.5 436 L112.8 435.6 L113 435.4 L113.3 435.8 L113.5 435.5 L113.8 435.4 L114 435.8 L114.3 436 L114.5 435.7 L114.8 435.4 L115 435.4 L115.3 435.4 L115.5 435.8 L115.8 436.2 L116 436.4 L116.3 436.6 L116.5 436.7 L116.8 436.8 L117 436.9 L117.3 437 L117.5 436.3 L117.8 436 L118 435.8 L118.3 435.9 L118.5 435.9 L118.8 435.7 L119 436 L119.3 435.8 L119.5 435.4 L119.8 435 L120 434.7 L120.3 434.3 L120.5 433.7 L120.8 433.1 L121 432.7 L121.3 433 L121.5 433.6 L121.8 434.1 L122 434.8 L122.3 435 L122.5 435.5 L122.8 435.8 L123 435.5 L123.3 435.8 L123.5 435.7 L123.8 435.7 L124 435.9 L124.3 436.1 L124.5 436.4 L124.8 436.4 L125 436.1 L125.3 436.1 L125.5 435.9 L125.8 435.5 L126 435.7 L126.3 435.7 L126.5 436.1 L126.8 435.9 L127 436.2 L127.3 436.1 L127.5 435.7 L127.8 436 L128.1 435.8 L128.3 435.9 L128.6 435.5 L128.8 435.2 L129.1 435.8 L129.3 435.4 L129.6 435.3 L129.8 435.2 L130.1 435 L130.3 435.6 L130.6 436.1 L130.8 436.1 L131.1 435.9 L131.3 436.2 L131.6 436.1 L131.8 435.7 L132.1 435.8 L132.3 435.7 L132.6 435.5 L132.8 435.3 L133.1 435.2 L133.3 435 L133.6 435.1 L133.8 435.3 L134.1 434.9 L134.3 433.6 L134.6 432 L134.8 428.2 L135.1 423.1 L135.3 417.7 L135.6 414.3 L135.8 416.2 L136.1 421.6 L136.3 426.9 L136.6 430.7 L136.8 433.2 L137.1 434.5 L137.3 434.8 L137.6 435 L137.8 435.4 L138.1 435.4 L138.3 435.6 L138.6 435.7 L138.8 436.1 L139.1 435.6 L139.3 435.4 L139.6 435.8 L139.8 436 L140.1 435.6 L140.3 435.4 L140.6 435.3 L140.8 435.5 L141.1 436 L141.3 435.7 L141.6 435.5 L141.8 435.8 L142.1 435.8 L142.3 436.1 L142.6 436.5 L142.8 436.7 L143.1 436.6 L143.3 436.4 L143.6 435.9 L143.8 436.2 L144.1 436 L144.3 436 L144.6 436.1 L144.8 436.4 L145.1 436.3 L145.3 436.6 L145.6 436.8 L145.8 436.2 L146.1 436 L146.3 436.3 L146.6 436.4 L146.8 436.6 L147.1 436.2 L147.3 436.1 L147.6 436.3 L147.8 436.1 L148.1 435.9 L148.3 435.8 L148.6 434.8 L148.8 433.9 L149.1 434.1 L149.3 434.5 L149.6 434.7 L149.8 435.5 L150.1 435.6 L150.3 435.4 L150.6 435.5 L150.8 435.2 L151.1 435.4 L151.3 435.8 L151.6 435.8 L151.8 436.2 L152.1 435.8 L152.3 435.6 L152.6 435.4 L152.8 435.6 L153.1 435.5 L153.3 435.8 L153.6 435.8 L153.8 435.9 L154.1 436.2 L154.3 436.4 L154.6 436.6 L154.8 436.1 L155.1 436 L155.3 436.4 L155.6 436.2 L155.8 435.9 L156.1 435.9 L156.3 435.7 L156.6 436 L156.8 436.1 L157.1 435.7 L157.3 436.2 L157.6 436.1 L157.8 435.8 L158.1 435.9 L158.3 436.3 L158.6 436 L158.8 435.4 L159.1 434.9 L159.3 434.2 L159.6 433.8 L159.8 433.2 L160.1 433.4 L160.3 433.6 L160.6 433.9 L160.8 434.7 L161.1 434.9 L161.3 435.1 L161.6 435.2 L161.8 435.2 L162.1 435.5 L162.3 436 L162.6 435.9 L162.8 436 L163.1 435.9 L163.3 436.2 L163.6 436.2 L163.8 435.7 L164.1 436 L164.3 435.7 L164.6 435.4 L164.8 435.2 L165.1 435.7 L165.3 436 L165.6 435.8 L165.8 435.9 L166.1 436.1 L166.3 435.7 L166.6 436 L166.8 436.1 L167.1 436.5 L167.3 435.9 L167.6 436 L167.8 436 L168.1 436.3 L168.3 436.1 L168.6 436.2 L168.8 436.4 L169.1 436.2 L169.3 436.1 L169.6 436.4 L169.8 435.9 L170.1 436.3 L170.3 436 L170.6 435.9 L170.8 435.7 L171.1 436 L171.3 436 L171.6 436.1 L171.8 435.5 L172.1 435.5 L172.3 435.1 L172.6 434.4 L172.8 433.3 L173.1 432.8 L173.3 433.3 L173.6 433.8 L173.8 435 L174.1 435.4 L174.3 436 L174.6 435.8 L174.8 436 L175.1 436.2 L175.3 436.2 L175.6 436.1 L175.8 435.6 L176.1 435.7 L176.3 435.6 L176.6 436.1 L176.8 436.4 L177.1 436.7 L177.3 436.8 L177.6 436.3 L177.8 435.8 L178.1 435.6 L178.3 435.3 L178.6 435.1 L178.8 435.4 L179.1 435.3 L179.3 435.5 L179.6 435.4 L179.8 435.2 L180.1 435.5 L180.3 434.7 L180.6 434.4 L180.8 433.8 L181.1 433.7 L181.3 433.7 L181.6 434.6 L181.8 435.5 L182.1 435.5 L182.3 435.6 L182.6 435.9 L182.8 435.8 L183.1 436 L183.3 436.1 L183.6 435.8 L183.8 436 L184.1 436.1 L184.3 436 L184.6 436 L184.8 436 L185.1 435.8 L185.3 435.4 L185.6 435.3 L185.8 435.6 L186.1 435.6 L186.3 435.1 L186.6 434.9 L186.8 434.7 L187.1 434 L187.3 432 L187.6 427.7 L187.8 419.2 L188.1 408 L188.3 402.4 L188.6 408.3 L188.8 418.9 L189.1 427.5 L189.3 432.2 L189.6 433.6 L189.8 434.8 L190.1 435.2 L190.3 435.6 L190.6 435.3 L190.8 435 L191.1 435.4 L191.3 435.5 L191.6 435.5 L191.8 435.5 L192.1 435.7 L192.3 435.5 L192.6 435.7 L192.8 435.3 L193.1 435.7 L193.3 435.6 L193.6 435.1 L193.8 434.5 L194.1 434 L194.3 432.3 L194.6 430.6 L194.8 428.9 L195.1 427.6 L195.3 427 L195.6 428.4 L195.8 430.3 L196.1 432.3 L196.3 433.2 L196.6 434 L196.8 434.5 L197.1 435 L197.3 435 L197.6 434.6 L197.8 434.5 L198.1 434.8 L198.3 435.1 L198.6 435 L198.8 434.3 L199.1 434.2 L199.3 433.8 L199.6 432.4 L199.8 430.8 L200.1 428.7 L200.3 426.9 L200.6 426.8 L200.8 427.4 L201.1 428.8 L201.3 431.1 L201.6 432.1 L201.8 433.3 L202.1 434 L202.3 433.8 L202.6 433.6 L202.8 433.1 L203.1 433 L203.3 432.9 L203.6 432.5 L203.8 432 L204.1 431.8 L204.3 431.9 L204.6 432.5 L204.8 432.8 L205.1 433.1 L205.3 433.7 L205.6 433.8 L205.8 434.5 L206.1 434.7 L206.3 434.4 L206.6 434 L206.8 434.2 L207.1 433.9 L207.3 434 L207.6 434 L207.8 434.1 L208.1 433.5 L208.3 432.8 L208.6 432.1 L208.8 430.6 L209.1 429.4 L209.3 429.1 L209.6 429.1 L209.8 430.3 L210.1 430.9 L210.3 431.8 L210.6 432.8 L210.8 433.6 L211.1 434.1 L211.3 434.2 L211.6 434.5 L211.8 435.1 L212.1 435.5 L212.3 435.6 L212.6 435.3 L212.8 435.4 L213.1 435.1 L213.3 434.8 L213.6 435.3 L213.8 435.1 L214.1 435 L214.3 435.4 L214.6 435.1 L214.8 435 L215.1 434.9 L215.3 435.4 L215.6 435.6 L215.8 435.4 L216.1 435.1 L216.3 435.6 L216.6 435.3 L216.8 435.6 L217.1 435.8 L217.3 435.8 L217.6 435.7 L217.8 435.6 L218.1 435.4 L218.3 435.6 L218.6 435.3 L218.8 435.4 L219.1 435.3 L219.3 435.3 L219.6 435.7 L219.8 435.7 L220.1 435.8 L220.3 435.8 L220.6 435.3 L220.8 435.6 L221.1 435.9 L221.3 435.9 L221.6 435.8 L221.8 435.9 L222.1 436.1 L222.3 435.6 L222.6 435.1 L222.8 434.9 L223.1 434.4 L223.3 434.1 L223.6 433.6 L223.8 433 L224.1 432.6 L224.3 431.5 L224.6 430.8 L224.8 430 L225.1 428.9 L225.3 427.1 L225.6 426.2 L225.8 425.1 L226.1 425.1 L226.3 425.6 L226.6 426.4 L226.8 427.3 L227.1 428.8 L227.3 429.3 L227.6 430.1 L227.8 429.9 L228.1 429.3 L228.3 428.5 L228.6 427.1 L228.8 426.1 L229.1 424.3 L229.3 422.9 L229.6 421.4 L229.8 420.4 L230.1 420.4 L230.3 420.9 L230.6 421.6 L230.8 423.2 L231.1 424.3 L231.3 425.4 L231.6 426.9 L231.8 428 L232.1 428.5 L232.3 428.1 L232.6 426.6 L232.8 422.2 L233.1 412.3 L233.3 394.4 L233.6 368.4 L233.8 337.8 L234.1 314.1 L234.3 311.3 L234.6 331.7 L234.8 362 L235.1 389.4 L235.3 409.2 L235.6 420.7 L235.8 426.5 L236.1 429 L236.3 430.5 L236.6 431 L236.8 431 L237.1 430.3 L237.3 430 L237.6 428.6 L237.8 427.1 L238.1 425.4 L238.3 424.4 L238.6 424.2 L238.8 425 L239.1 426.6 L239.3 428.1 L239.6 429.8 L239.8 431.1 L240.1 431.4 L240.3 431.8 L240.6 430.7 L240.8 429.2 L241.1 427.6 L241.3 424.8 L241.6 422.2 L241.8 420.4 L242.1 420.4 L242.3 422 L242.6 423.9 L242.8 426.7 L243.1 429.5 L243.3 431.5 L243.6 432.7 L243.8 433.4 L244.1 433.8 L244.3 433.9 L244.6 434 L244.8 434.6 L245.1 434.9 L245.3 434.7 L245.6 435.3 L245.8 435.7 L246.1 435.6 L246.3 435.4 L246.6 435.8 L246.8 435.8 L247.1 435.9 L247.3 435.5 L247.6 435.7 L247.8 435.6 L248.1 435.2 L248.3 434.9 L248.6 434.9 L248.8 434.8 L249.1 434.8 L249.3 435.4 L249.6 435.3 L249.8 435.1 L250.1 434.8 L250.3 434.6 L250.6 434.7 L250.8 434.8 L251.1 434.5 L251.3 434.7 L251.6 434.6 L251.8 434.2 L252.1 434.3 L252.3 434 L252.6 433.7 L252.8 433.8 L253.1 433.4 L253.3 432.7 L253.6 431.3 L253.8 428.1 L254.1 420.5 L254.3 406.8 L254.6 388.1 L254.8 373.1 L255.1 375.3 L255.3 391.2 L255.6 409 L255.8 421.4 L256.1 427.9 L256.3 430.6 L256.6 431.5 L256.8 431.9 L257.1 431.5 L257.3 430.9 L257.6 430 L257.8 429.1 L258.1 428 L258.3 426.7 L258.6 426.2 L258.8 427.2 L259.1 428.5 L259.3 429.9 L259.6 430.5 L259.8 431.1 L260.1 431.4 L260.3 431.2 L260.6 430.8 L260.8 430.5 L261.1 429.6 L261.3 428.9 L261.6 428.6 L261.8 429.1 L262.1 429.8 L262.3 430.3 L262.6 430.7 L262.8 431.3 L263.1 431.6 L263.3 430.8 L263.6 429.6 L263.8 428.1 L264.1 427.1 L264.3 426.3 L264.6 426.4 L264.8 427.2 L265.1 428.4 L265.3 429.8 L265.6 431.4 L265.8 432.7 L266.1 432.9 L266.3 433 L266.6 432.8 L266.8 432.2 L267.1 431.9 L267.3 430.9 L267.6 428.4 L267.8 425.4 L268.1 422 L268.3 419.4 L268.6 418.5 L268.8 420.5 L269.1 423.5 L269.3 426.6 L269.6 429.3 L269.8 431.9 L270.1 433.6 L270.3 434.6 L270.6 435.2 L270.8 435.1 L271.1 435.1 L271.3 435 L271.6 435.5 L271.8 435.1 L272.1 435 L272.3 435.3 L272.6 435.5 L272.8 435.1 L273.1 435 L273.3 434.9 L273.6 434.9 L273.8 435.1 L274.1 434.9 L274.3 435.4 L274.6 435.5 L274.8 435.7 L275.1 435.6 L275.3 435.9 L275.6 435.5 L275.8 435.9 L276.1 435.6 L276.3 435.7 L276.6 435.7 L276.8 435.9 L277.1 435.8 L277.3 436 L277.6 435.5 L277.8 435.6 L278.1 435.6 L278.3 435.7 L278.6 435.3 L278.8 435.5 L279.1 435.2 L279.3 434.9 L279.6 434.6 L279.8 435.2 L280.1 434.9 L280.3 435.1 L280.6 434.7 L280.8 434.8 L281.1 434.5 L281.3 434.5 L281.6 434.5 L281.8 434.2 L282.1 433.7 L282.3 432.8 L282.6 430 L282.8 424.3 L283.1 412.9 L283.3 394.6 L283.6 374.1 L283.8 363.4 L284.1 373.6 L284.3 394.7 L284.6 413.1 L284.8 424.1 L285.1 429.5 L285.3 431.6 L285.6 432.4 L285.8 433.5 L286.1 433.8 L286.3 434.4 L286.6 434.4 L286.8 434.8 L287.1 435.2 L287.3 434.7 L287.6 434.8 L287.8 435.1 L288.1 435 L288.3 434.1 L288.6 433.6 L288.8 432.9 L289.1 431.3 L289.3 430.1 L289.6 428.9 L289.8 427.7 L290.1 427.8 L290.3 428.5 L290.6 429.1 L290.8 430.4 L291.1 431.8 L291.3 432.4 L291.6 433.3 L291.8 434.2 L292.1 434.2 L292.3 434.1 L292.6 433.8 L292.8 432.1 L293.1 428.3 L293.3 421.1 L293.6 413.9 L293.8 410 L294.1 413.5 L294.3 420.8 L294.6 427.8 L294.8 431.9 L295.1 433.8 L295.3 434.6 L295.6 435 L295.8 435.2 L296.1 435.1 L296.3 435.4 L296.6 435.3 L296.8 435 L297.1 435.6 L297.3 435.3 L297.6 435.7 L297.8 435.9 L298.1 435.8 L298.3 435.8 L298.6 435.6 L298.8 435.4 L299.1 435.8 L299.3 436 L299.6 436.1 L299.8 435.9 L300.1 435.4 L300.3 435.7 L300.6 436 L300.8 435.6 L301.1 435.5 L301.3 434.9 L301.6 434.8 L301.8 433.5 L302.1 430.2 L302.3 425.8 L302.6 420.7 L302.8 418 L303.1 420.6 L303.3 426.2 L303.6 430.8 L303.8 433.5 L304.1 435.1 L304.3 435.6 L304.6 436 L304.8 436 L305.1 436.1 L305.3 436.3 L305.6 436.1 L305.8 436 L306.1 435.7 L306.3 435.9 L306.6 436.1 L306.8 435.9 L307.1 435.6 L307.3 435.8 L307.6 436 L307.8 436.1 L308.1 435.7 L308.3 436.1 L308.6 436.2 L308.8 436.4 L309.1 436 L309.3 435.8 L309.6 435.8 L309.8 435.5 L310.1 436 L310.3 435.7 L310.6 435.5 L310.8 435.9 L311.1 435.7 L311.3 435.8 L311.6 436 L311.8 435.7 L312.1 435.4 L312.3 435.7 L312.6 436.1 L312.8 436.3 L313.1 435.9 L313.3 435.8 L313.6 435.8 L313.8 435.4 L314.1 435.9 L314.3 436.2 L314.6 436.5 L314.8 436.7 L315.1 436.8 L315.3 436.4 L315.6 436.4 L315.8 436.6 L316.1 436 L316.3 435.6 L316.6 436.1 L316.8 435.7 L317.1 436.2 L317.3 436 L317.6 435.8 L317.8 435.7 L318.1 436.1 L318.3 436.2 L318.6 435.8 L318.8 436.1 L319.1 436 L319.3 436.2 L319.6 436.2 L319.8 436.4 L320.1 436.3 L320.3 436.1 L320.6 436.5 L320.8 436.7 L321.1 436.6 L321.3 436.4 L321.6 436.4 L321.8 436.4 L322.1 436.1 L322.3 436.4 L322.6 436.2 L322.8 436.6 L323.1 436.5 L323.3 436.7 L323.6 436.8 L323.8 436.4 L324.1 435.9 L324.3 436 L324.6 436 L324.8 435.9 L325.1 435.8 L325.3 435.7 L325.6 435.4 L325.8 435.6 L326.1 435.7 L326.3 435.7 L326.6 436.1 L326.8 436 L327.1 436.2 L327.3 436.4 L327.6 436.3 L327.8 436.2 L328.1 435.9 L328.3 436.1 L328.6 436.4 L328.8 436.6 L329.1 436.7 L329.3 436.9 L329.6 436.7 L329.8 436.4 L330.1 436.7 L330.3 436.6 L330.6 436.1 L330.8 436.4 L331.1 436.3 L331.3 436.5 L331.6 436.3 L331.8 436.3 L332.1 436.3 L332.3 436.3 L332.6 436.5 L332.8 436.3 L333.1 436.3 L333.3 436.6 L333.6 436.1 L333.8 436.4 L334.1 436.4 L334.3 436.2 L334.6 435.8 L334.8 435.8 L335.1 435.6 L335.3 435.5 L335.6 435.6 L335.8 435.8 L336.1 436.3 L336.3 436.3 L336.6 436.4 L336.8 436.3 L337.1 435.8 L337.3 435.7 L337.6 435.5 L337.8 435.7 L338.1 435.6 L338.3 435.8 L338.6 435.8 L338.8 435.4 L339.1 435.4 L339.3 435.9 L339.6 435.9 L339.8 436.1 L340.1 436.1 L340.3 436 L340.6 436.2 L340.8 436.5 L341.1 436.4 L341.3 436.5 L341.6 436.2 L341.8 436 L342.1 435.6 L342.3 435.7 L342.6 435.4 L342.8 435.4 L343.1 435.6 L343.3 435.6 L343.6 435.5 L343.8 435.5 L344.1 436 L344.3 436.1 L344.6 436.2 L344.8 436.5 L345.1 436.5 L345.3 436.7 L345.6 436.7 L345.8 436.7 L346.1 436.6 L346.3 436.8 L346.6 436.6 L346.8 436.3 L347.1 436.3 L347.3 435.9 L347.6 435.8 L347.8 436.3 L348.1 435.9 L348.3 435.8 L348.6 435.7 L348.8 435.9 L349.1 436.2 L349.3 436 L349.6 436 L349.8 435.6 L350.1 435.5 L350.3 435.6 L350.6 435.8 L350.8 436.2 L351.1 436.4 L351.3 436.3 L351.6 436 L351.8 436.3 L352.1 436.5 L352.3 436.6 L352.6 436.5 L352.8 436.5 L353.1 436.2 L353.3 436.2 L353.6 436 L353.8 436.2 L354.1 436.4 L354.3 436.1 L354.6 436.3 L354.8 435.8 L355.1 435.5 L355.3 435.4 L355.6 435.4 L355.8 435.5 L356.1 435.5 L356.3 436 L356.6 435.6 L356.8 436 L357.1 435.8 L357.3 435.7 L357.6 435.7 L357.8 435.7 L358.1 435.9 L358.3 435.5 L358.6 435.7 L358.8 435.4 L359.1 435.3 L359.3 435.3 L359.6 435.5 L359.8 435.8 L360.1 435.5 L360.3 435.2 L360.6 435.3 L360.8 435.3 L361.1 435.7 L361.3 436 L361.6 436.3 L361.8 436.6 L362.1 436.8 L362.3 436.3 L362.6 436.2 L362.8 435.8 L363.1 435.9 L363.3 436.1 L363.6 436.1 L363.8 436.5 L364.1 436.2 L364.3 436 L364.6 436.3 L364.8 436.4 L365.1 436 L365.3 435.9 L365.6 436.1 L365.8 435.7 L366.1 436 L366.3 436.3 L366.6 436.3 L366.8 435.8 L367.1 435.9 L367.3 435.6 L367.6 436 L367.8 435.7 L368.1 435.4 L368.3 435.5 L368.6 435.3 L368.8 435.8 L369.1 435.5 L369.3 435.3 L369.6 435.3 L369.8 435.4 L370.1 435.5 L370.3 436 L370.6 435.8 L370.8 436.1 L371.1 435.6 L371.3 435.6 L371.6 435.9 L371.8 436 L372.1 436 L372.3 435.4 L372.6 435.6 L372.8 434.8 L373.1 433.9 L373.3 431.8 L373.6 429.2 L373.8 427.1 L374.1 426.8 L374.3 428.4 L374.6 430.6 L374.8 432.5 L375.1 434.1 L375.3 434.8 L375.6 434.9 L375.8 434.9 L376.1 434.7 L376.3 434.6 L376.6 435.2 L376.8 435.7 L377.1 435.9 L377.3 436 L377.6 435.8 L377.8 435.5 L378.1 435.5 L378.3 435.5 L378.6 435.8 L378.8 436.1 L379.1 435.9 L379.3 435.6 L379.6 435.8 L379.8 436.1 L380.1 436.3 L380.3 436.5 L380.6 436.4 L380.8 436.4 L381.1 436.1 L381.3 436.1 L381.6 435.6 L381.8 435.9 L382.1 435.4 L382.3 435.4 L382.6 435.1 L382.8 434.5 L383.1 433.2 L383.3 432.1 L383.6 431.3 L383.8 432.3 L384.1 433.4 L384.3 434 L384.6 434.5 L384.8 434.8 L385.1 435 L385.3 435 L385.6 434.9 L385.8 435.1 L386.1 435.4 L386.3 435.4 L386.6 435.3 L386.8 435.2 L387.1 435.6 L387.3 435.8 L387.6 435.8 L387.8 435.3 L388.1 435.5 L388.3 435.4 L388.6 435.5 L388.8 435.4 L389.1 435 L389.3 435 L389.6 435.1 L389.8 434.5 L390.1 434.1 L390.3 433.2 L390.6 432.1 L390.8 431.5 L391.1 432 L391.3 432.8 L391.6 433.4 L391.8 434 L392.1 434.7 L392.3 434.9 L392.6 435.1 L392.8 435.5 L393.1 435.2 L393.3 435.5 L393.6 435.6 L393.8 435.6 L394.1 435.9 L394.3 435.4 L394.6 435.2 L394.8 435.2 L395.1 435.2 L395.3 435.6 L395.6 435.3 L395.8 435 L396.1 435.3 L396.3 435.5 L396.6 435.2 L396.8 434.8 L397.1 434.9 L397.3 434.9 L397.6 435.1 L397.8 434.9 L398.1 434.6 L398.3 434.6 L398.6 434.5 L398.8 434.7 L399.1 434.4 L399.3 434.8 L399.6 434.9 L399.8 435 L400.1 435.1 L400.3 435.3 L400.6 435 L400.8 435.3 L401.1 434.9 L401.3 435.2 L401.6 435.5 L401.8 434.9 L402.1 435 L402.3 435.3 L402.6 435 L402.8 434.7 L403.1 435.2 L403.3 434.9 L403.6 435.3 L403.8 435.1 L404.1 435.4 L404.3 435.4 L404.6 434.9 L404.8 434.7 L405.1 434.9 L405.3 434.5 L405.6 434.4 L405.8 434.4 L406.1 434.3 L406.3 434.8 L406.6 434.9 L406.8 434.8 L407.1 434.7 L407.3 434.4 L407.6 434.6 L407.8 434.8 L408.1 434.9 L408.3 434.9 L408.6 434.7 L408.8 433.6 L409.1 432.2 L409.3 430.9 L409.6 430.9 L409.8 431.7 L410.1 432.4 L410.3 433.6 L410.6 434.6 L410.8 434.4 L411.1 434.7 L411.3 435 L411.6 435.2 L411.8 434.9 L412.1 434.8 L412.3 434.5 L412.6 434.4 L412.8 434.6 L413.1 435 L413.3 434.9 L413.6 435 L413.8 435.3 L414.1 435.4 L414.3 435 L414.6 434.8 L414.8 435.2 L415.1 434.7 L415.3 434.7 L415.6 434.6 L415.8 434.3 L416.1 434.4 L416.3 434.2 L416.6 433.9 L416.8 433.7 L417.1 432.9 L417.3 431.6 L417.6 429.1 L417.8 427.7 L418.1 427.2 L418.3 428.2 L418.6 430.4 L418.8 432.2 L419.1 433.8 L419.3 434.7 L419.6 434.5 L419.8 435 L420.1 434.9 L420.3 434.9 L420.6 434.9 L420.8 435.1 L421.1 434.7 L421.3 434.8 L421.6 435 L421.8 434.8 L422.1 435.1 L422.3 435.1 L422.6 435 L422.8 434.7 L423.1 434.5 L423.3 434.4 L423.6 434.4 L423.8 434.6 L424.1 434.2 L424.3 432.9 L424.6 431.4 L424.8 430.7 L425.1 429.9 L425.3 431.1 L425.6 432.7 L425.8 434 L426.1 434.4 L426.3 435.1 L426.6 435.1 L426.8 435.1 L427.1 434.9 L427.3 434.8 L427.6 435.1 L427.8 434.9 L428.1 435.3 L428.3 435.5 L428.6 435.7 L428.8 435.6 L429.1 435.6 L429.3 435.2 L429.6 434.7 L429.8 434.4 L430.1 434.4 L430.3 434.4 L430.6 433.2 L430.8 431.1 L431.1 427 L431.3 422.5 L431.6 419.8 L431.8 421.3 L432.1 425.6 L432.3 430.3 L432.6 432.9 L432.8 434.6 L433.1 435.3 L433.3 435.5 L433.6 435.6 L433.8 435.4 L434.1 435.3 L434.3 435.2 L434.6 435.4 L434.8 435.7 L435.1 435.3 L435.3 435.3 L435.6 435.2 L435.8 435 L436.1 434.9 L436.3 435.3 L436.6 435.2 L436.8 435.4 L437.1 434.9 L437.3 434.8 L437.6 434.1 L437.8 433.5 L438.1 432.3 L438.3 431.6 L438.6 431.7 L438.8 433 L439.1 434.3 L439.3 434.5 L439.6 435 L439.8 435.4 L440.1 435.3 L440.3 435.1 L440.6 435.1 L440.8 435.3 L441.1 435.4 L441.3 435.6 L441.6 435.2 L441.8 435.3 L442.1 435.3 L442.3 435.7 L442.6 436 L442.8 436.2 L443.1 436 L443.3 436.1 L443.6 436.1 L443.8 436.3 L444.1 436 L444.3 436.1 L444.6 436 L444.8 435.8 L445.1 435.6 L445.3 435.3 L445.6 435.3 L445.8 435.5 L446.1 435.9 L446.3 435.6 L446.6 436 L446.8 436.1 L447.1 436.2 L447.3 436.1 L447.6 436 L447.8 436 L448.1 436.1 L448.3 436.4 L448.6 435.8 L448.8 436.1 L449.1 436.3 L449.3 436.4 L449.6 436.1 L449.8 435.8 L450.1 436.1 L450.3 436.3 L450.6 436.1 L450.8 436 L451.1 435.7 L451.3 435.5 L451.6 435.3 L451.8 435.3 L452.1 435.2 L452.3 435.5 L452.6 435.8 L452.8 435.8 L453.1 435.7 L453.3 435.5 L453.6 435.6 L453.8 435.4 L454.1 435.4 L454.3 435.3 L454.6 435.6 L454.8 435.9 L455.1 435.6 L455.3 435.4 L455.6 435.4 L455.8 435.3 L456.1 435.8 L456.3 435.8 L456.6 435.4 L456.8 435.4 L457.1 435.7 L457.3 436.1 L457.6 435.9 L457.8 436.2 L458.1 435.9 L458.3 435.6 L458.6 435.9 L458.8 436 L459.1 435.8 L459.3 435.5 L459.6 435.7 L459.8 435.5 L460.1 435.9 L460.3 436.3 L460.6 436.3 L460.8 436.3 L461.1 435.8 L461.3 435.5 L461.6 435.5 L461.8 435.5 L462.1 435.8 L462.3 436.1 L462.6 436 L462.8 436.1 L463.1 436.4 L463.3 436 L463.6 435.5 L463.8 435.3 L464.1 435.6 L464.3 435.7 L464.6 435.8 L464.8 436.1 L465.1 435.5 L465.3 435.5 L465.6 435.3 L465.8 435.1 L466.1 434.8 L466.3 434.5 L466.6 434.3 L466.8 433.8 L467.1 433.5 L467.3 432.8 L467.6 432.6 L467.8 432 L468.1 431.7 L468.3 431.3 L468.6 431.3 L468.8 431.3 L469.1 431.7 L469.3 432.3 L469.6 432.2 L469.8 432.8 L470.1 433.1 L470.3 433.3 L470.6 433.5 L470.8 434.3 L471.1 434.3 L471.3 434.8 L471.6 434.7 L471.8 434.8 L472.1 435 L472.3 435.4 L472.6 435.7 L472.8 435.7 L473.1 435.7 L473.3 435.9 L473.6 435.5 L473.8 435.5 L474.1 435.6 L474.3 435.3 L474.6 435.5 L474.8 435.6 L475.1 435.8 L475.3 435.5 L475.6 435.9 L475.8 436 L476.1 435.9 L476.3 435.5 L476.6 435.9 L476.8 436 L477.1 436.4 L477.3 436.6 L477.6 436.2 L477.8 436.2 L478.1 436.1 L478.3 436.3 L478.6 436.1 L478.8 436.1 L479.1 435.7 L479.3 436.1 L479.6 435.7 L479.8 435.7 L480.1 436 L480.3 435.7 L480.6 435.6 L480.8 435.8 L481.1 435.5 L481.3 435.6 L481.6 436.1 L481.8 435.8 L482.1 436 L482.3 436 L482.6 435.9 L482.8 435.9 L483.1 436.3 L483.3 435.8 L483.6 435.9 L483.8 435.7 L484.1 435.4 L484.3 435.4 L484.6 435.8 L484.8 435.7 L485.1 435.7 L485.3 436 L485.6 435.5 L485.8 435.5 L486.1 435.7 L486.3 435.9 L486.6 435.3 L486.8 434.7 L487.1 434.5 L487.3 433.9 L487.6 432.9 L487.8 432.2 L488.1 432.1 L488.3 431.9 L488.6 432.1 L488.8 432.4 L489.1 432.5 L489.3 432.8 L489.6 433.2 L489.8 433.7 L490.1 433.9 L490.3 434.2 L490.6 434.3 L490.8 434.4 L491.1 434.7 L491.3 434.7 L491.6 434.1 L491.8 434.1 L492.1 434 L492.3 433.7 L492.6 432.9 L492.8 432 L493.1 430.1 L493.3 428.8 L493.6 427 L493.8 425.2 L494.1 423.9 L494.3 423.4 L494.6 423.3 L494.8 423.8 L495.1 424.6 L495.3 426.2 L495.6 427.4 L495.8 429 L496.1 430.7 L496.3 432.3 L496.6 433.2 L496.8 434 L497.1 434.4 L497.3 434.4 L497.6 434.9 L497.8 435.2 L498.1 435 L498.3 435.1 L498.6 435.1 L498.8 435.6 L499.1 435.9 L499.3 435.6 L499.6 435.5 L499.8 435.5 L500.1 435.2 L500.3 435.2 L500.6 435.2 L500.8 435.1 L501.1 435.4 L501.3 435.2 L501.6 435.6 L501.8 435.9 L502.1 435.7 L502.3 435.6 L502.6 435.8 L502.8 436.2 L503.1 435.8 L503.3 436 L503.6 435.8 L503.8 436 L504.1 436.2 L504.3 436 L504.6 435.7 L504.8 435.6 L505.1 435.8 L505.3 436 L505.6 435.7 L505.8 435.5 L506.1 435.5 L506.3 435.2 L506.6 435.5 L506.8 435.9 L507.1 435.5 L507.3 435.2 L507.6 435.5 L507.8 435.7 L508.1 435.8 L508.3 435.6 L508.6 435.7 L508.8 435.6 L509.1 434.9 L509.3 434.5 L509.6 433.8 L509.8 433.8 L510.1 433.9 L510.3 434.1 L510.6 434.3 L510.8 434.9 L511.1 435.4 L511.3 435.3 L511.6 435 L511.8 435 L512 435.6 L512.3 435.5 L512.5 436 L512.8 436.1 L513 435.6 L513.3 435.7 L513.5 435.5 L513.8 435.5 L514 435.5 L514.3 435.4 L514.5 435.1 L514.8 435 L515 435.7 L515.3 435.7 L515.5 435.8 L515.8 435.5 L516 435.6 L516.3 435.9 L516.5 436.3 L516.8 436 L517 436.4 L517.3 436.4 L517.5 436.1 L517.8 435.8 L518 435.6 L518.3 435.5 L518.5 435.3 L518.8 435.6 L519 436 L519.3 436 L519.5 436.2 L519.8 436.5 L520 436.7 L520.3 436.5 L520.5 436.5 L520.8 436.5 L521 436.7 L521.3 436.6 L521.5 436.6 L521.8 436.5 L522 436.6 L522.3 436.7 L522.5 436.1 L522.8 436.5 L523 436.2 L523.3 436.3 L523.5 436.4 L523.8 435.9 L524 436.1 L524.3 436.2 L524.5 436.2 L524.8 436.1 L525 436.2 L525.3 436.1 L525.5 436.1 L525.8 436.3 L526 436.5 L526.3 436.4 L526.5 436.7 L526.8 436.6 L527 436.6 L527.3 436.5 L527.5 436.4 L527.8 436.5 L528 436.6 L528.3 436.5 L528.5 435.9 L528.8 435.9 L529 435.7 L529.3 436.1 L529.5 436.3 L529.8 436.3 L530 436.5 L530.3 436.4 L530.5 436.2 L530.8 435.8 L531 435.8 L531.3 436.1 L531.5 435.8 L531.8 435.8 L532 435.7 L532.3 435.6 L532.5 435.5 L532.8 435.4 L533 435.8 L533.3 435.6 L533.5 436.1 L533.8 435.7 L534 436.2 L534.3 436.4 L534.5 436.6 L534.8 436.2 L535 435.7 L535.3 436 L535.5 436 L535.8 435.7 L536 436.1 L536.3 435.9 L536.5 435.7 L536.8 436 L537 436.2 L537.3 435.8 L537.5 435.7 L537.8 435.9 L538 436 L538.3 436.3 L538.5 435.9 L538.8 436.3 L539 436.1 L539.3 435.7 L539.5 436 L539.8 436.1 L540 436.1 L540.3 436.1 L540.5 436.2 L540.8 436.2 L541 436.1 L541.3 435.9 L541.5 435.6 L541.8 435.4 L542 435.4 L542.3 435.2 L542.5 435.7 L542.8 435.4 L543 435.7 L543.3 435.8 L543.5 436.1 L543.8 436.2 L544 436.1 L544.3 435.8 L544.5 436 L544.8 435.6 L545 435.5 L545.3 436 L545.5 436.3 L545.8 436.5 L546 436.7 L546.3 436.5 L546.5 436 L546.8 436.2 L547 436.4 L547.3 435.9 L547.5 435.9 L547.8 436.2 L548 435.9 L548.3 435.7 L548.5 435.6 L548.8 436 L549 435.6 L549.3 435.4 L549.5 435.4 L549.8 435.5 L550 435.6 L550.3 436.1 L550.5 435.6 L550.8 435.5 L551 435.6 L551.3 435.3 L551.5 435.3 L551.8 435.8 L552 436.2 L552.3 436.1 L552.5 436.4 L552.8 435.9 L553 436 L553.3 436 L553.5 436 L553.8 435.2 L554 434.7 L554.3 434.2 L554.5 433.4 L554.8 432.3 L555 431.1 L555.3 430.7 L555.5 430.7 L555.8 430.6 L556 431.6 L556.3 432.3 L556.5 433.5 L556.8 434 L557 434.7 L557.3 435.5 L557.5 435.4 L557.8 435.6 L558 435.4 L558.3 435.2 L558.5 434.9 L558.8 435 L559 435 L559.3 435.5 L559.5 435.2 L559.8 435.3 L560 435.1 L560.3 434.9 L560.5 435.3 L560.8 435.7 L561 435.8 L561.3 435.8 L561.5 435.4 L561.8 435.4 L562 435.2 L562.3 435.5 L562.5 435.6 L562.8 435.4 L563 435.2 L563.3 434.6 L563.5 434.4 L563.8 433.8 L564 433.8 L564.3 432.9 L564.5 432.6 L564.8 431.9 L565 431.3 L565.3 430.4 L565.5 430 L565.8 429.8 L566 429.8 L566.3 430.5 L566.5 430.9 L566.8 431.4 L567 432.4 L567.3 432.8 L567.5 434 L567.8 434.5 L568 434.5 L568.3 435.3 L568.5 435.5 L568.8 435.3 L569 435.4 L569.3 435.8 L569.5 435.6 L569.8 435.8 L570 435.6 L570.3 435.3 L570.5 435.5 L570.8 435.5 L571 435.5 L571.3 435.9 L571.5 436.2 L571.8 436.1 L572 436.2 L572.3 436.4 L572.5 436.1 L572.8 436.2 L573 435.8 L573.3 435.6 L573.5 435.5 L573.8 435.6 L574 435.3 L574.3 435.8 L574.5 435.7 L574.8 435.9 L575 435.5 L575.3 435.6 L575.5 435.4 L575.8 435.2 L576 434.6 L576.3 434.1 L576.5 434 L576.8 433.4 L577 433.2 L577.3 433.3 L577.5 433.6 L577.8 433.6 L578 433.9 L578.3 434.2 L578.5 434.9 L578.8 435.5 L579 435.9 L579.3 436.2 L579.5 436.5 L579.8 436.7 L580 436.4 L580.3 436 L580.5 435.8 L580.8 435.8 L581 435.7 L581.3 435.3 L581.5 435.5 L581.8 436 L582 435.6 L582.3 435.6 L582.5 435.5 L582.8 435.4 L583 435.9 L583.3 435.9 L583.5 436.1 L583.8 435.8 L584 435.8 L584.3 435.9 L584.5 435.6" stroke="#2a2a2a" stroke-width="1.6"/>
</g>
<g fill="none" stroke="#9a9a9a" stroke-width="2.3">
<rect x="52.3" y="1.9" width="533.3000000000001" height="444.90000000000003"/>
</g>
<path d="M85.6 446.8V443.3M119 446.8V443.3M152.3 446.8V443.3M185.6 446.8V443.3M219 446.8V443.3M252.3 446.8V443.3M285.6 446.8V443.3M319 446.8V443.3M352.3 446.8V443.3M385.6 446.8V443.3M418.9 446.8V443.3M452.3 446.8V443.3M485.6 446.8V443.3M518.9 446.8V443.3M552.3 446.8V443.3" stroke="#9a9a9a" stroke-width="1.2"/>
<g fill="#111"><circle cx="220.2" cy="7.6" r="3.8"/><circle cx="256.2" cy="50.8" r="3.8"/><rect x="177.4" y="129.8" width="6.5" height="6.5"/><rect x="261.1" y="127.3" width="6" height="6"/><rect x="269.4" y="122" width="6" height="6"/><path d="M277.6 123.8L286.1 123.8L281.8 131.3Z"/><rect x="289.2" y="111.3" width="7" height="7"/><path d="M322.6 129.2L332.6 129.2L327.6 137.7Z"/><circle cx="377.1" cy="97.3" r="3.8"/><rect x="396.1" y="132.7" width="6.5" height="6.5"/><circle cx="453.1" cy="105.5" r="3.8"/><rect x="468.1" y="133.6" width="6.5" height="6.5"/><circle cx="478.3" cy="127.7" r="3.8"/><rect x="521.5" y="133.6" width="6.5" height="6.5"/><circle cx="570.4" cy="131.3" r="3.8"/><circle cx="219" cy="161.4" r="3.8"/><circle cx="255" cy="184.4" r="3.8"/><rect x="156.2" y="273.6" width="6.5" height="6.5"/><rect x="165.6" y="268.2" width="6.5" height="6.5"/><rect x="175.6" y="275.2" width="6.5" height="6.5"/><path d="M188.8 269.4L190.2 272.5L193.6 272.9L191.1 275.1L191.7 278.4L188.8 276.8L185.9 278.4L186.5 275.1L184 272.9L187.4 272.5Z"/><path d="M207.3 269.9L212.1 278.4L202.6 278.4Z"/><path d="M227.6 273.2L232.1 281.2L223.1 281.2Z"/><path d="M233.5 246.2L235.1 247.7L237.2 247.8L237.3 249.9L238.8 251.5L237.3 253.1L237.2 255.2L235.1 255.3L233.5 256.8L231.9 255.3L229.8 255.2L229.7 253.1L228.2 251.5L229.7 249.9L229.8 247.8L231.9 247.7Z"/><path d="M242.4 250.2L247.4 259.2L237.4 259.2Z"/><path d="M270.4 258.5L272 260L274.1 260.1L274.2 262.2L275.7 263.8L274.2 265.4L274.1 267.5L272 267.6L270.4 269.1L268.8 267.6L266.7 267.5L266.6 265.4L265.1 263.8L266.6 262.2L266.7 260.1L268.8 260Z"/><rect x="274.4" y="272.7" width="6" height="6"/><path d="M283.8 258.8L285.2 261.9L288.6 262.3L286.1 264.5L286.7 267.8L283.8 266.2L280.9 267.8L281.5 264.5L279 262.3L282.4 261.9Z"/><rect x="285.3" y="265.9" width="6" height="6"/><rect x="289.2" y="243.1" width="7" height="7"/><path d="M293.4 254L295 255.5L297.1 255.6L297.2 257.7L298.7 259.3L297.2 260.9L297.1 263L295 263.1L293.4 264.6L291.8 263.1L289.7 263L289.6 260.9L288.1 259.3L289.6 257.7L289.7 255.6L291.8 255.5Z"/><path d="M303.6 273.2L305.2 274.7L307.3 274.8L307.4 276.9L308.9 278.5L307.4 280.1L307.3 282.2L305.2 282.3L303.6 283.8L302 282.3L299.9 282.2L299.8 280.1L298.3 278.5L299.8 276.9L299.9 274.8L302 274.7Z"/><path d="M322.1 275.9L327.1 284.4L317.1 284.4Z"/><circle cx="376.3" cy="240.9" r="3.8"/><path d="M384 259.3L388.5 267.3L379.5 267.3Z"/><path d="M384 269.2L385.6 270.7L387.7 270.8L387.8 272.9L389.3 274.5L387.8 276.1L387.7 278.2L385.6 278.3L384 279.8L382.4 278.3L380.3 278.2L380.2 276.1L378.7 274.5L380.2 272.9L380.3 270.8L382.4 270.7Z"/><path d="M393.6 272.2L395.2 273.7L397.3 273.8L397.4 275.9L398.9 277.5L397.4 279.1L397.3 281.2L395.2 281.3L393.6 282.8L392 281.3L389.9 281.2L389.8 279.1L388.3 277.5L389.8 275.9L389.9 273.8L392 273.7Z"/><path d="M430.8 272.2L432.4 273.7L434.5 273.8L434.6 275.9L436.1 277.5L434.6 279.1L434.5 281.2L432.4 281.3L430.8 282.8L429.2 281.3L427.1 281.2L427 279.1L425.5 277.5L427 275.9L427.1 273.8L429.2 273.7Z"/><circle cx="453.1" cy="249.2" r="3.8"/><path d="M462.6 273.7L464.2 275.2L466.3 275.3L466.4 277.4L467.9 279L466.4 280.6L466.3 282.7L464.2 282.8L462.6 284.3L461 282.8L458.9 282.7L458.8 280.6L457.3 279L458.8 277.4L458.9 275.3L461 275.2Z"/><circle cx="477.5" cy="273" r="3.8"/><path d="M493.9 273.7L495.5 275.2L497.6 275.3L497.7 277.4L499.2 279L497.7 280.6L497.6 282.7L495.5 282.8L493.9 284.3L492.3 282.8L490.2 282.7L490.1 280.6L488.6 279L490.1 277.4L490.2 275.3L492.3 275.2Z"/><rect x="518.9" y="277.1" width="6.5" height="6.5"/><rect x="565" y="266.1" width="6.5" height="6.5"/><circle cx="569.2" cy="278" r="3.8"/><path d="M106.5 420.5L110.2 425.5L106.5 430.5L102.8 425.5Z"/><path d="M135.6 400.9L139.6 406.2L135.6 411.4L131.6 406.2Z"/><path d="M188.5 392.1L189.9 395.2L193.3 395.6L190.8 397.8L191.4 401.1L188.5 399.5L185.6 401.1L186.2 397.8L183.7 395.6L187.1 395.2Z"/><path d="M195.1 415.3L198.6 419.8L195.1 424.3L191.6 419.8Z"/><path d="M200.3 415.3L203.8 419.8L200.3 424.3L196.8 419.8Z"/><path d="M209.5 418.4L214 426.4L205 426.4Z"/><path d="M225.3 411.9L230.1 420.4L220.6 420.4Z"/><path d="M235.1 298.6L236.7 300.1L239 300.2L239.1 302.5L240.6 304.1L239.1 305.7L239 308L236.7 308.1L235.1 309.6L233.5 308.1L231.2 308L231.1 305.7L229.6 304.1L231.1 302.5L231.2 300.2L233.5 300.1Z"/><path d="M241.7 406.1L246.7 415.1L236.7 415.1Z"/><path d="M253.9 360.9L255.3 364L258.7 364.4L256.2 366.6L256.8 369.9L253.9 368.3L251 369.9L251.6 366.6L249.1 364.4L252.5 364Z"/><path d="M258.2 415.2L259.8 416.7L261.9 416.8L262 418.9L263.5 420.5L262 422.1L261.9 424.2L259.8 424.3L258.2 425.8L256.6 424.3L254.5 424.2L254.4 422.1L252.9 420.5L254.4 418.9L254.5 416.8L256.6 416.7Z"/><path d="M264.4 415.2L266 416.7L268.1 416.8L268.2 418.9L269.7 420.5L268.2 422.1L268.1 424.2L266 424.3L264.4 425.8L262.8 424.3L260.7 424.2L260.6 422.1L259.1 420.5L260.6 418.9L260.7 416.8L262.8 416.7Z"/><path d="M268.5 403.8L270.1 405.3L272.2 405.4L272.3 407.5L273.8 409.1L272.3 410.7L272.2 412.8L270.1 412.9L268.5 414.4L266.9 412.9L264.8 412.8L264.7 410.7L263.2 409.1L264.7 407.5L264.8 405.4L266.9 405.3Z"/><path d="M284.6 353.4L286 356.5L289.4 356.9L286.9 359.1L287.5 362.4L284.6 360.8L281.7 362.4L282.3 359.1L279.8 356.9L283.2 356.5Z"/><path d="M293.6 397.8L295.2 399.3L297.5 399.4L297.6 401.7L299.1 403.3L297.6 404.9L297.5 407.2L295.2 407.3L293.6 408.8L292 407.3L289.7 407.2L289.6 404.9L288.1 403.3L289.6 401.7L289.7 399.4L292 399.3Z"/><path d="M303.5 405.8L305.1 407.3L307.4 407.4L307.5 409.7L309 411.3L307.5 412.9L307.4 415.2L305.1 415.3L303.5 416.8L301.9 415.3L299.6 415.2L299.5 412.9L298 411.3L299.5 409.7L299.6 407.4L301.9 407.3Z"/><path d="M374.2 415L375.6 418.1L379 418.5L376.5 420.7L377.1 424L374.2 422.4L371.3 424L371.9 420.7L369.4 418.5L372.8 418.1Z"/><path d="M383.4 420L385 421.5L387.1 421.6L387.2 423.7L388.7 425.3L387.2 426.9L387.1 429L385 429.1L383.4 430.6L381.8 429.1L379.7 429L379.6 426.9L378.1 425.3L379.6 423.7L379.7 421.6L381.8 421.5Z"/><path d="M390.8 413.8L392.4 415.3L394.5 415.4L394.6 417.5L396.1 419.1L394.6 420.7L394.5 422.8L392.4 422.9L390.8 424.4L389.2 422.9L387.1 422.8L387 420.7L385.5 419.1L387 417.5L387.1 415.4L389.2 415.3Z"/><path d="M398.6 422.9L400 426L403.4 426.4L400.9 428.6L401.5 431.9L398.6 430.3L395.7 431.9L396.3 428.6L393.8 426.4L397.2 426Z"/><path d="M409.3 421.5L410.7 424.6L414.1 425L411.6 427.2L412.2 430.5L409.3 428.9L406.4 430.5L407 427.2L404.5 425L407.9 424.6Z"/><path d="M418.1 412.8L419.7 414.3L421.8 414.4L421.9 416.5L423.4 418.1L421.9 419.7L421.8 421.8L419.7 421.9L418.1 423.4L416.5 421.9L414.4 421.8L414.3 419.7L412.8 418.1L414.3 416.5L414.4 414.4L416.5 414.3Z"/><path d="M425 420.9L426.4 424L429.8 424.4L427.3 426.6L427.9 429.9L425 428.3L422.1 429.9L422.7 426.6L420.2 424.4L423.6 424Z"/><path d="M431.8 406.9L433.4 408.4L435.5 408.5L435.6 410.6L437.1 412.2L435.6 413.8L435.5 415.9L433.4 416L431.8 417.5L430.2 416L428.1 415.9L428 413.8L426.5 412.2L428 410.6L428.1 408.5L430.2 408.4Z"/><path d="M438.6 422.9L440 426L443.4 426.4L440.9 428.6L441.5 431.9L438.6 430.3L435.7 431.9L436.3 428.6L433.8 426.4L437.2 426Z"/><path d="M468.5 417.7L470.1 419.2L472.2 419.3L472.3 421.4L473.8 423L472.3 424.6L472.2 426.7L470.1 426.8L468.5 428.3L466.9 426.8L464.8 426.7L464.7 424.6L463.2 423L464.7 421.4L464.8 419.3L466.9 419.2Z"/><path d="M488.4 415.7L490 417.2L492.1 417.3L492.2 419.4L493.7 421L492.2 422.6L492.1 424.7L490 424.8L488.4 426.3L486.8 424.8L484.7 424.7L484.6 422.6L483.1 421L484.6 419.4L484.7 417.3L486.8 417.2Z"/><path d="M496.3 405L497.9 406.5L500 406.6L500.1 408.7L501.6 410.3L500.1 411.9L500 414L497.9 414.1L496.3 415.6L494.7 414.1L492.6 414L492.5 411.9L491 410.3L492.5 408.7L492.6 406.6L494.7 406.5Z"/><path d="M509.9 422.6L511.5 424.1L513.6 424.2L513.7 426.3L515.2 427.9L513.7 429.5L513.6 431.6L511.5 431.7L509.9 433.2L508.3 431.7L506.2 431.6L506.1 429.5L504.6 427.9L506.1 426.3L506.2 424.2L508.3 424.1Z"/><path d="M555.8 419L557.2 422.1L560.6 422.5L558.1 424.7L558.7 428L555.8 426.4L552.9 428L553.5 424.7L551 422.5L554.4 422.1Z"/><path d="M565.6 419.9L570.4 428.4L560.9 428.4Z"/></g>
<g fill="#111"><circle cx="425.5" cy="21.7" r="4.6"/><path d="M426.7 39.2L432.7 50.2L420.7 50.2Z"/><path d="M421.5 70.5L431.5 70.5L426.5 80.5Z"/><path d="M427 165L428.4 166.8L430.6 166.2L430.8 168.5L432.9 169.3L431.6 171.2L432.9 173.1L430.8 173.9L430.6 176.2L428.4 175.6L427 177.4L425.6 175.6L423.4 176.2L423.2 173.9L421.1 173.1L422.4 171.2L421.1 169.3L423.2 168.5L423.4 166.2L425.6 166.8Z"/><path d="M427.1 197.1L429 201.1L433.4 201.7L430.1 204.7L431 209L427.1 206.9L423.2 209L424.1 204.7L420.8 201.7L425.2 201.1Z"/><rect x="422.4" y="313.9" width="7.5" height="7.5"/><path d="M424.4 346.6L428.1 352.1L424.4 357.6L420.6 352.1Z"/></g>
<text x="438.5" y="26.8" style="font-family:&quot;Liberation Serif&quot;,serif;font-size:17.3px;font-weight:normal" fill="#2b2b2b" stroke="#2b2b2b" stroke-width="0.3" text-anchor="start" >TaC (35-801)</text>
<text x="438.5" y="53.3" style="font-family:&quot;Liberation Serif&quot;,serif;font-size:17.3px;font-weight:normal" fill="#2b2b2b" stroke="#2b2b2b" stroke-width="0.3" text-anchor="start" >Ta<tspan dy="4.5" font-size="9.5">2</tspan><tspan dy="-4.5">C (32-1280)</tspan></text>
<text x="438.5" y="79.2" style="font-family:&quot;Liberation Serif&quot;,serif;font-size:17.3px;font-weight:normal" fill="#2b2b2b" stroke="#2b2b2b" stroke-width="0.3" text-anchor="start" >Ni (65-380)</text>
<text x="439.5" y="175.6" style="font-family:&quot;Liberation Serif&quot;,serif;font-size:17.3px;font-weight:normal" fill="#2b2b2b" stroke="#2b2b2b" stroke-width="0.3" text-anchor="start" >NiTa<tspan dy="4.5" font-size="9.5">2</tspan><tspan dy="-4.5"> (17-99)</tspan></text>
<text x="439.5" y="207.8" style="font-family:&quot;Liberation Serif&quot;,serif;font-size:17.3px;font-weight:normal" fill="#2b2b2b" stroke="#2b2b2b" stroke-width="0.3" text-anchor="start" >Ni<tspan dy="4.5" font-size="9.5">2</tspan><tspan dy="-4.5">Ta (17-563)</tspan></text>
<text x="438.1" y="323" style="font-family:&quot;Liberation Serif&quot;,serif;font-size:17.3px;font-weight:normal" fill="#2b2b2b" stroke="#2b2b2b" stroke-width="0.3" text-anchor="start" >Ni<tspan dy="4.5" font-size="9.5">3</tspan><tspan dy="-4.5">Ta (17-699)</tspan></text>
<text x="435.4" y="356.2" style="font-family:&quot;Liberation Serif&quot;,serif;font-size:17.3px;font-weight:normal" fill="#2b2b2b" stroke="#2b2b2b" stroke-width="0.3" text-anchor="start" >Ca<tspan dy="4.5" font-size="9.5">4</tspan><tspan dy="-4.5">Ta</tspan><tspan dy="4.5" font-size="9.5">2</tspan><tspan dy="-4.5">O</tspan><tspan dy="4.5" font-size="9.5">9</tspan><tspan dy="-4.5"> (21-841)</tspan></text>
<text x="0" y="0" transform="translate(61.5 73.4) scale(0.95 1)" style="font-family:&quot;Liberation Serif&quot;,serif;font-size:18.4px;font-weight:bold" fill="#d8222e" stroke="#d8222e" stroke-width="0.1" text-anchor="start" >Ni : Ta : C = 2 : 1 : 3</text>
<text x="0" y="0" transform="translate(61.5 203.2) scale(0.95 1)" style="font-family:&quot;Liberation Serif&quot;,serif;font-size:18.4px;font-weight:bold" fill="#d8222e" stroke="#d8222e" stroke-width="0.1" text-anchor="start" >Ni : Ta : C = 1 : 1 : 2</text>
<text x="0" y="0" transform="translate(61.5 347.4) scale(0.95 1)" style="font-family:&quot;Liberation Serif&quot;,serif;font-size:18.4px;font-weight:bold" fill="#d8222e" stroke="#d8222e" stroke-width="0.1" text-anchor="start" >Ni : Ta : C = 1 : 1 : 1</text>
<text x="52.3" y="465.5" style="font-family:&quot;Liberation Sans&quot;,sans-serif;font-size:17.2px;font-weight:normal" fill="#222" stroke="#222" stroke-width="0.3" text-anchor="middle" >10</text>
<text x="119" y="465.5" style="font-family:&quot;Liberation Sans&quot;,sans-serif;font-size:17.2px;font-weight:normal" fill="#222" stroke="#222" stroke-width="0.3" text-anchor="middle" >20</text>
<text x="185.6" y="465.5" style="font-family:&quot;Liberation Sans&quot;,sans-serif;font-size:17.2px;font-weight:normal" fill="#222" stroke="#222" stroke-width="0.3" text-anchor="middle" >30</text>
<text x="252.3" y="465.5" style="font-family:&quot;Liberation Sans&quot;,sans-serif;font-size:17.2px;font-weight:normal" fill="#222" stroke="#222" stroke-width="0.3" text-anchor="middle" >40</text>
<text x="319" y="465.5" style="font-family:&quot;Liberation Sans&quot;,sans-serif;font-size:17.2px;font-weight:normal" fill="#222" stroke="#222" stroke-width="0.3" text-anchor="middle" >50</text>
<text x="385.6" y="465.5" style="font-family:&quot;Liberation Sans&quot;,sans-serif;font-size:17.2px;font-weight:normal" fill="#222" stroke="#222" stroke-width="0.3" text-anchor="middle" >60</text>
<text x="452.3" y="465.5" style="font-family:&quot;Liberation Sans&quot;,sans-serif;font-size:17.2px;font-weight:normal" fill="#222" stroke="#222" stroke-width="0.3" text-anchor="middle" >70</text>
<text x="518.9" y="465.5" style="font-family:&quot;Liberation Sans&quot;,sans-serif;font-size:17.2px;font-weight:normal" fill="#222" stroke="#222" stroke-width="0.3" text-anchor="middle" >80</text>
<text x="585.6" y="465.5" style="font-family:&quot;Liberation Sans&quot;,sans-serif;font-size:17.2px;font-weight:normal" fill="#222" stroke="#222" stroke-width="0.3" text-anchor="middle" >90</text>
<text x="316" y="500.6" style="font-family:&quot;Liberation Serif&quot;,serif;font-size:31.5px;font-weight:normal" fill="#111" stroke="#111" stroke-width="0.3" text-anchor="middle" >2θ/degree</text>
<text x="30.6" y="212.9" style="font-family:&quot;Liberation Serif&quot;,serif;font-size:32.4px;font-weight:normal" fill="#111" stroke="#111" stroke-width="0.3" text-anchor="middle" transform="rotate(-90 30.6 212.9)">Intensity a.u.</text>
<text x="1.5" y="26.6" style="font-family:&quot;Liberation Serif&quot;,serif;font-size:34px;font-weight:normal" fill="#111" stroke="#111" stroke-width="0.3" text-anchor="start" >(a)</text>
<g fill="none" stroke-width="3.4" stroke-linejoin="round" stroke-linecap="round">
<path d="M728.3 221 C729.5 221.1 733.2 221.8 735.3 221.5 C737.4 221.2 738.8 220.4 741 219.5 C743.2 218.6 746 216.4 748.3 216.2 C750.6 216 752 217.2 755 218.5 C758 219.8 760.9 222.8 766.2 223.8 C771.5 224.8 779.9 224.8 786.7 224.5 C793.6 224.2 800.4 222.8 807.3 222 C814.2 221.2 821.5 221 827.9 220 C834.3 219 837.9 216.9 845.7 216 C853.5 215.1 865.9 215.1 874.5 214.6 C883.1 214.1 888.3 213.4 897.4 212.8 C906.5 212.2 922.1 210.8 929 210.8 C935.9 210.8 935.6 212.9 938.6 212.6 C941.6 212.2 943.1 209.6 946.8 208.7 C950.4 207.8 956.8 207.2 960.5 207.3 C964.2 207.4 966 209.7 968.8 209.4 C971.5 209.1 973.8 206.6 977 205.3 C980.2 204 985.2 202.1 988 201.8 C990.8 201.5 991.5 203.8 993.5 203.6 C995.5 203.4 997.9 202.4 1000.3 200.5 C1002.7 198.6 1005.2 191.6 1007.9 192.2 C1010.6 192.8 1012.2 204.5 1016.3 204.3 C1020.4 204.1 1027.9 192.3 1032.5 190.9 C1037.1 189.5 1041 195.1 1043.8 195.9 C1046.6 196.7 1047 195.1 1049.4 195.9 C1051.9 196.7 1055.2 202.7 1058.5 200.8 C1061.8 198.9 1065.6 183.8 1069 184.6 C1072.4 185.4 1075.4 205.8 1078.9 205.7 C1082.4 205.6 1087.4 186.9 1090.2 183.9 C1093 180.9 1092.3 185.6 1095.8 187.4 C1099.3 189.2 1106.8 192.4 1111.3 194.5 C1115.8 196.6 1118.8 198.9 1122.5 200.1 C1126.2 201.3 1130.5 202.2 1133.8 201.5 C1137.1 200.8 1139.8 196.4 1142.2 195.9 C1144.7 195.4 1145.7 199.8 1148.5 198.7 C1151.3 197.6 1155.7 190.1 1159.1 189.5 C1162.5 188.9 1165.8 194.1 1169 195.2 C1172.2 196.3 1176.5 195.8 1178 195.9" stroke="#3ee03e"/>
<path d="M728.3 302 C729.6 302 734.3 300.7 735.9 302 C737.5 303.3 737.1 305.3 737.8 310 C738.5 314.7 739.2 324.2 740 330 C740.8 335.8 741.5 341.6 742.5 345 C743.5 348.4 744.8 349.2 746 350.5 C747.2 351.8 747.6 351.7 749.7 352.6 C751.8 353.5 755.1 357.1 758.5 356.1 C761.9 355.1 766.9 347.1 770 346.4 C773.1 345.7 774.8 352.7 777 352.1 C779.2 351.5 780.7 343.7 783.2 342.9 C785.7 342.1 787.6 345.7 792 347.3 C796.4 348.9 805.6 352 809.7 352.6 C813.8 353.2 814.8 351 816.7 350.8 C818.6 350.6 819.2 350.4 821.1 351.4 C823 352.4 824.8 358.3 828.2 356.7 C831.6 355.1 836.9 345.8 841.4 342 C845.9 338.2 851.1 336.2 855.5 334.1 C859.9 332 864.3 330.1 867.9 329.2 C871.5 328.3 874 327.3 877 328.5 C880 329.7 882.4 334.8 885.9 336.4 C889.4 338 894 339.2 898.2 338.2 C902.5 337.2 907 331.1 911.4 330.2 C915.8 329.2 920.4 333 924.7 332.5 C929 332 933.5 328.6 937 327.2 C940.5 325.8 942 325 945.8 324.4 C949.6 323.8 955 324.6 960 323.7 C965 322.8 972 319.4 975.8 318.8 C979.6 318.2 979.4 320.5 982.9 320.2 C986.4 319.9 992.9 318.4 997 317 C1001.1 315.6 1003.8 312.9 1007.6 311.7 C1011.4 310.5 1014.4 311.2 1020 310 C1025.7 308.8 1033.8 305.9 1041.5 304.7 C1049.2 303.5 1059.3 302.7 1066.1 302.6 C1072.8 302.5 1076.7 303.5 1082 304.3 C1087.3 305.1 1092 307.1 1097.9 307.3 C1103.8 307.5 1111.4 305.5 1117.3 305.6 C1123.2 305.7 1127.3 308 1133.2 307.8 C1139.1 307.6 1145.2 305.5 1152.6 304.7 C1159.9 303.9 1173.2 303.2 1177.3 302.9" stroke="#e02326"/>
<path d="M728.3 302 C729.5 302 733.4 301.4 735.6 302 C737.9 302.6 739.4 305.4 741.8 305.6 C744.1 305.8 747.2 304.1 749.7 303.4 C752.2 302.6 753.6 300.1 756.7 301.1 C759.8 302.1 765 309 768.2 309.6 C771.4 310.2 773.6 306 776.1 305 C778.6 304 780.2 301.7 783.2 303.8 C786.2 305.9 790.6 315.5 793.8 317.9 C797 320.2 799.7 319.7 802.6 317.9 C805.5 316.1 809 309.4 811.4 307.3 C813.8 305.2 813.8 307.4 816.7 305 C819.6 302.6 825.8 295.5 829 293.2 C832.2 290.9 833.5 292.4 836.1 291.4 C838.8 290.4 842 289.1 844.9 287 C847.8 284.9 850.5 279.5 853.7 278.6 C856.9 277.7 860.8 281.5 864.3 281.7 C867.8 281.9 871.5 279.9 875 280 C878.5 280.1 881.4 282.5 885 282.3 C888.6 282.1 893.1 279 896.5 278.6 C899.9 278.2 902.4 280.2 905.3 280 C908.2 279.8 911.5 277.5 914.1 277.3 C916.7 277.1 918.6 278.8 921.1 278.7 C923.6 278.6 926.5 276.1 929.1 276.8 C931.8 277.5 934.4 281.4 937 282.6 C939.6 283.8 941.8 286.1 945 283.9 C948.2 281.7 953.8 271.6 956.4 269.4 C959 267.2 959 270.6 960.8 270.8 C962.6 271 964.2 271.3 967 270.3 C969.8 269.3 973.9 264.3 977.6 265 C981.3 265.7 985.2 273.5 989 274.7 C992.8 275.9 995 272.4 1000.5 272 C1006 271.6 1016.6 271.6 1022 272.6 C1027.3 273.6 1027.9 277.2 1032.6 278.2 C1037.3 279.2 1044.4 279 1050.3 278.6 C1056.2 278.2 1062.6 275.5 1067.9 275.6 C1073.2 275.7 1076.7 278.9 1082 279.1 C1087.3 279.3 1094.4 276.6 1099.7 276.8 C1105 277 1107.3 279.5 1113.8 280.3 C1120.3 281.1 1130.9 281.3 1138.5 281.7 C1146.1 282.1 1153.1 282.5 1159.6 282.6 C1166.1 282.7 1174.3 282.4 1177.3 282.3" stroke="#1c1ce0"/>
</g>
<rect x="728.3" y="44.0" width="539.3" height="396.5" fill="none" stroke="#646464" stroke-width="2.6"/>
<path d="M773.3 440.5V437M818.3 440.5V433.5M863.3 440.5V437M908.3 440.5V433.5M953.3 440.5V437M998.3 440.5V433.5M1043.3 440.5V437M1088.3 440.5V433.5M1133.3 440.5V437M1178.3 440.5V433.5M1223.3 440.5V437M728.3 400.8H731.8M728.3 361.1H735.8M728.3 321.5H731.8M728.3 281.8H735.8M728.3 242.1H731.8M728.3 202.5H735.8M728.3 162.8H731.8M728.3 123.1H735.8M728.3 83.4H731.8" stroke="#3a3a3a" stroke-width="1.8"/>
<text x="728.3" y="465.6" style="font-family:&quot;Liberation Sans&quot;,sans-serif;font-size:21.5px;font-weight:normal" fill="#222" stroke="#222" stroke-width="0.3" text-anchor="middle" >0</text>
<text x="818.3" y="465.6" style="font-family:&quot;Liberation Sans&quot;,sans-serif;font-size:21.5px;font-weight:normal" fill="#222" stroke="#222" stroke-width="0.3" text-anchor="middle" >2</text>
<text x="908.3" y="465.6" style="font-family:&quot;Liberation Sans&quot;,sans-serif;font-size:21.5px;font-weight:normal" fill="#222" stroke="#222" stroke-width="0.3" text-anchor="middle" >4</text>
<text x="998.3" y="465.6" style="font-family:&quot;Liberation Sans&quot;,sans-serif;font-size:21.5px;font-weight:normal" fill="#222" stroke="#222" stroke-width="0.3" text-anchor="middle" >6</text>
<text x="1088.3" y="465.6" style="font-family:&quot;Liberation Sans&quot;,sans-serif;font-size:21.5px;font-weight:normal" fill="#222" stroke="#222" stroke-width="0.3" text-anchor="middle" >8</text>
<text x="1178.3" y="465.6" style="font-family:&quot;Liberation Sans&quot;,sans-serif;font-size:21.5px;font-weight:normal" fill="#222" stroke="#222" stroke-width="0.3" text-anchor="middle" >10</text>
<text x="1268.3" y="465.6" style="font-family:&quot;Liberation Sans&quot;,sans-serif;font-size:21.5px;font-weight:normal" fill="#222" stroke="#222" stroke-width="0.3" text-anchor="middle" >12</text>
<text x="719" y="447.1" style="font-family:&quot;Liberation Sans&quot;,sans-serif;font-size:21.5px;font-weight:normal" fill="#222" stroke="#222" stroke-width="0.3" text-anchor="end" >0.0</text>
<text x="719" y="367.8" style="font-family:&quot;Liberation Sans&quot;,sans-serif;font-size:21.5px;font-weight:normal" fill="#222" stroke="#222" stroke-width="0.3" text-anchor="end" >0.2</text>
<text x="719" y="288.4" style="font-family:&quot;Liberation Sans&quot;,sans-serif;font-size:21.5px;font-weight:normal" fill="#222" stroke="#222" stroke-width="0.3" text-anchor="end" >0.4</text>
<text x="719" y="209" style="font-family:&quot;Liberation Sans&quot;,sans-serif;font-size:21.5px;font-weight:normal" fill="#222" stroke="#222" stroke-width="0.3" text-anchor="end" >0.6</text>
<text x="719" y="129.7" style="font-family:&quot;Liberation Sans&quot;,sans-serif;font-size:21.5px;font-weight:normal" fill="#222" stroke="#222" stroke-width="0.3" text-anchor="end" >0.8</text>
<text x="719" y="50.4" style="font-family:&quot;Liberation Sans&quot;,sans-serif;font-size:21.5px;font-weight:normal" fill="#222" stroke="#222" stroke-width="0.3" text-anchor="end" >1.0</text>
<text x="1012" y="501.6" style="font-family:&quot;Liberation Serif&quot;,serif;font-size:32px;font-weight:normal" fill="#111" stroke="#111" stroke-width="0.3" text-anchor="middle" >Time / h</text>
<text x="671" y="240.2" style="font-family:&quot;Liberation Serif&quot;,serif;font-size:32.7px;font-weight:normal" fill="#111" stroke="#111" stroke-width="0.3" text-anchor="middle" transform="rotate(-90 671 240.2)">Current / A</text>
<text x="636.5" y="26.7" style="font-family:&quot;Liberation Serif&quot;,serif;font-size:34px;font-weight:normal" fill="#111" stroke="#111" stroke-width="0.3" text-anchor="start" >(b)</text>
<text x="0" y="0" transform="translate(1073 167.3) scale(0.955 1)" style="font-family:&quot;Liberation Serif&quot;,serif;font-size:20.4px;font-weight:bold" fill="#3ad83a" stroke="#3ad83a" stroke-width="0.1" text-anchor="start" >Ta : Ni : C = 1 : 2 : 3</text>
<text x="0" y="0" transform="translate(1072.5 259.2) scale(0.955 1)" style="font-family:&quot;Liberation Serif&quot;,serif;font-size:20.4px;font-weight:bold" fill="#2424bc" stroke="#2424bc" stroke-width="0.1" text-anchor="start" >Ta : Ni : C = 1 : 1 : 3</text>
<text x="0" y="0" transform="translate(1095.5 343.1) scale(0.955 1)" style="font-family:&quot;Liberation Serif&quot;,serif;font-size:20.4px;font-weight:bold" fill="#d8222e" stroke="#d8222e" stroke-width="0.1" text-anchor="start" >Ta : C = 1 : 1</text>
</svg></body></html>
